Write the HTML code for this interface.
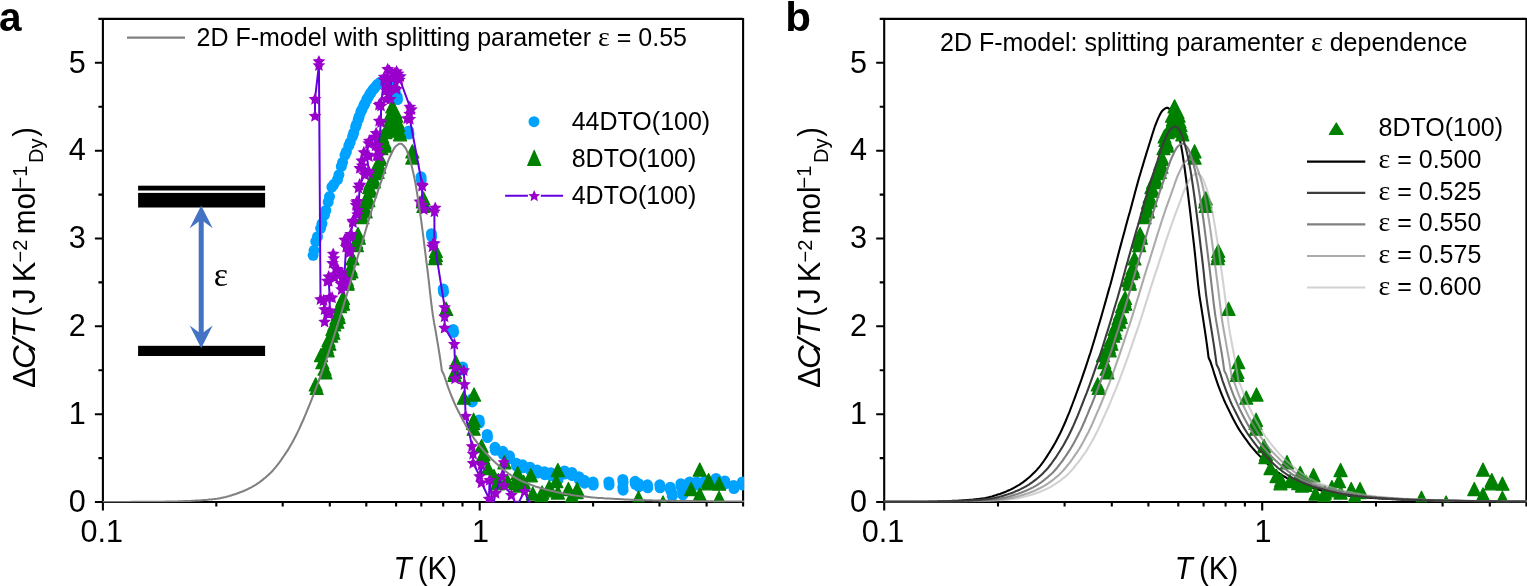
<!DOCTYPE html>
<html lang="en"><head><meta charset="utf-8"><title>2D F-model specific heat</title>
<style>html,body{margin:0;padding:0;background:#fff;overflow:hidden}svg{display:block}text{font-family:"Liberation Sans",Arial,Helvetica,sans-serif;fill:#000}.ser{font-family:"Liberation Serif","Times New Roman",serif}</style></head><body>
<svg width="1527" height="586" viewBox="0 0 1527 586">
<rect width="1527" height="586" fill="#fff"/>
<defs>
<clipPath id="ca"><rect x="101.9" y="17.9" width="642.2" height="484.4"/></clipPath>
<clipPath id="cb"><rect x="883.2" y="17.9" width="644.2" height="484.4"/></clipPath>
</defs>
<path d="M98.4 18.9H743.1M102.9 17.9V510.4M743.1 17.9V506.5M94.9 502H744.1M98.4 458.1H102.9M94.9 414.2H102.9M98.4 370.2H102.9M94.9 326.3H102.9M98.4 282.4H102.9M94.9 238.5H102.9M98.4 194.6H102.9M94.9 150.7H102.9M98.4 106.7H102.9M94.9 62.8H102.9M216.3 502V506.5M282.7 502V506.5M329.8 502V506.5M366.3 502V506.5M396.1 502V506.5M421.3 502V506.5M443.2 502V506.5M462.5 502V506.5M479.7 502V510.4M593.1 502V506.5M659.5 502V506.5M706.6 502V506.5M743.1 502V506.5" fill="none" stroke="#000" stroke-width="2.1"/>
<text x="85.7" y="511.7" font-size="30.6" text-anchor="end">0</text>
<text x="85.7" y="423.9" font-size="30.6" text-anchor="end">1</text>
<text x="85.7" y="336" font-size="30.6" text-anchor="end">2</text>
<text x="85.7" y="248.2" font-size="30.6" text-anchor="end">3</text>
<text x="85.7" y="160.4" font-size="30.6" text-anchor="end">4</text>
<text x="85.7" y="72.5" font-size="30.6" text-anchor="end">5</text>
<text x="101.7" y="541.8" font-size="30.6" text-anchor="middle">0.1</text>
<text x="480.5" y="541.8" font-size="30.6" text-anchor="middle">1</text>
<text transform="translate(393.5 578.7) scale(0.950 1)" font-size="31"><tspan font-style="italic">T</tspan><tspan dx="-2"> (K)</tspan></text>
<g transform="translate(35 387) rotate(-90)">
<text x="-1" y="0" font-size="31">Δ</text>
<text transform="translate(18 0) scale(1.060 1)" font-size="31" font-style="italic">C</text>
<text transform="translate(38 0) scale(1.200 1)" font-size="31" font-style="italic">/</text>
<text x="49.3" y="0" font-size="31" font-style="italic">T</text>
<text transform="translate(70.6 0) scale(0.930 1)" font-size="31">(</text>
<text x="83.2" y="0" font-size="31">J</text>
<text x="104.8" y="0" font-size="31">K</text>
<text x="124.5" y="-7.8" font-size="20">−2</text>
<text transform="translate(152.8 0) scale(0.955 1)" font-size="31">mol</text>
<text x="198.5" y="-8.5" font-size="20">−1</text>
<text transform="translate(224 8.4) scale(0.950 1)" font-size="21">Dy</text>
<text transform="translate(250.3 0) scale(0.930 1)" font-size="31">)</text>
</g>
<g clip-path="url(#ca)">
<g fill="#00A2FF">
<circle cx="313.1" cy="255.3" r="5.5"/>
<circle cx="314.1" cy="250.3" r="5.5"/>
<circle cx="315.8" cy="241.4" r="5.5"/>
<circle cx="317.5" cy="236.7" r="5.5"/>
<circle cx="320.6" cy="228.3" r="5.5"/>
<circle cx="322" cy="223.6" r="5.5"/>
<circle cx="324.4" cy="215.2" r="5.5"/>
<circle cx="325.8" cy="210.4" r="5.5"/>
<circle cx="328.2" cy="202" r="5.5"/>
<circle cx="329.5" cy="196.6" r="5.5"/>
<circle cx="331.9" cy="187" r="5.5"/>
<circle cx="333.9" cy="184.3" r="5.5"/>
<circle cx="337.5" cy="179.5" r="5.5"/>
<circle cx="338.9" cy="174.8" r="5.5"/>
<circle cx="341.3" cy="166.4" r="5.5"/>
<circle cx="342.6" cy="162.3" r="5.5"/>
<circle cx="345" cy="155.1" r="5.5"/>
<circle cx="346.4" cy="151.7" r="5.5"/>
<circle cx="348.8" cy="145.7" r="5.5"/>
<circle cx="350.2" cy="142.3" r="5.5"/>
<circle cx="352.6" cy="136.3" r="5.5"/>
<circle cx="353.7" cy="133" r="5.5"/>
<circle cx="355.6" cy="127" r="5.5"/>
<circle cx="356.5" cy="124.3" r="5.5"/>
<circle cx="358.2" cy="119.4" r="5.5"/>
<circle cx="359.1" cy="116.7" r="5.5"/>
<circle cx="360.8" cy="112" r="5.5"/>
<circle cx="361.9" cy="109.7" r="5.5"/>
<circle cx="363.8" cy="105.6" r="5.5"/>
<circle cx="364.9" cy="103.4" r="5.5"/>
<circle cx="366.8" cy="99.5" r="5.5"/>
<circle cx="367.9" cy="97.6" r="5.5"/>
<circle cx="369.8" cy="94.3" r="5.5"/>
<circle cx="371" cy="92.5" r="5.5"/>
<circle cx="373.2" cy="89.4" r="5.5"/>
<circle cx="374.6" cy="87.8" r="5.5"/>
<circle cx="377" cy="84.9" r="5.5"/>
<circle cx="378.3" cy="83.8" r="5.5"/>
<circle cx="380.7" cy="81.9" r="5.5"/>
<circle cx="382.1" cy="81.5" r="5.5"/>
<circle cx="384.5" cy="80.8" r="5.5"/>
<circle cx="385.8" cy="80.9" r="5.5"/>
<circle cx="388" cy="81" r="5.5"/>
<circle cx="389.3" cy="82.1" r="5.5"/>
<circle cx="391.5" cy="84" r="5.5"/>
<circle cx="392.4" cy="85.8" r="5.5"/>
<circle cx="394" cy="89" r="5.5"/>
<circle cx="395.2" cy="91.7" r="5.5"/>
<circle cx="397.2" cy="96.6" r="5.5"/>
<circle cx="397.5" cy="99.6" r="5.5"/>
<circle cx="408.7" cy="131" r="5.5"/>
<circle cx="409" cy="134" r="5.5"/>
<circle cx="421" cy="176.8" r="5.5"/>
<circle cx="421.3" cy="179.8" r="5.5"/>
<circle cx="431.4" cy="233.7" r="5.5"/>
<circle cx="431.7" cy="236.7" r="5.5"/>
<circle cx="443.2" cy="289" r="5.5"/>
<circle cx="443.5" cy="292" r="5.5"/>
<circle cx="453.2" cy="329.4" r="5.5"/>
<circle cx="453.5" cy="332.4" r="5.5"/>
<circle cx="462.6" cy="367" r="5.5"/>
<circle cx="462.9" cy="370" r="5.5"/>
<circle cx="472" cy="398.9" r="5.5"/>
<circle cx="472.3" cy="401.9" r="5.5"/>
<circle cx="479.1" cy="420" r="5.5"/>
<circle cx="479.4" cy="423" r="5.5"/>
<circle cx="487.2" cy="434.5" r="5.5"/>
<circle cx="487.5" cy="437.5" r="5.5"/>
<circle cx="495" cy="447.3" r="5.5"/>
<circle cx="495.3" cy="450.3" r="5.5"/>
<circle cx="502.8" cy="451.3" r="5.5"/>
<circle cx="503.1" cy="454.3" r="5.5"/>
<circle cx="509.5" cy="455.8" r="5.5"/>
<circle cx="509.8" cy="458.8" r="5.5"/>
<circle cx="516.3" cy="463.2" r="5.5"/>
<circle cx="516.6" cy="466.2" r="5.5"/>
<circle cx="522.6" cy="464.8" r="5.5"/>
<circle cx="522.9" cy="467.8" r="5.5"/>
<circle cx="530" cy="467.2" r="5.5"/>
<circle cx="530.3" cy="470.2" r="5.5"/>
<circle cx="537.2" cy="470.1" r="5.5"/>
<circle cx="537.5" cy="473.1" r="5.5"/>
<circle cx="544.4" cy="471.7" r="5.5"/>
<circle cx="544.7" cy="474.7" r="5.5"/>
<circle cx="550.8" cy="472.7" r="5.5"/>
<circle cx="551.1" cy="475.7" r="5.5"/>
<circle cx="557.8" cy="476.7" r="5.5"/>
<circle cx="558.1" cy="479.7" r="5.5"/>
<circle cx="564.5" cy="471" r="5.5"/>
<circle cx="564.8" cy="474" r="5.5"/>
<circle cx="571.9" cy="472.5" r="5.5"/>
<circle cx="572.2" cy="475.5" r="5.5"/>
<circle cx="578.9" cy="476.7" r="5.5"/>
<circle cx="579.2" cy="479.7" r="5.5"/>
<circle cx="584.2" cy="480.2" r="5.5"/>
<circle cx="584.5" cy="483.2" r="5.5"/>
<circle cx="593" cy="482" r="5.5"/>
<circle cx="593.3" cy="485" r="5.5"/>
<circle cx="608.8" cy="482" r="5.5"/>
<circle cx="609.1" cy="485" r="5.5"/>
<circle cx="622.8" cy="479.5" r="5.5"/>
<circle cx="623.1" cy="482.5" r="5.5"/>
<circle cx="622.8" cy="487.2" r="5.5"/>
<circle cx="623.1" cy="490.2" r="5.5"/>
<circle cx="635.1" cy="481.3" r="5.5"/>
<circle cx="635.4" cy="484.3" r="5.5"/>
<circle cx="638.7" cy="483.7" r="5.5"/>
<circle cx="639" cy="486.7" r="5.5"/>
<circle cx="647.5" cy="484.8" r="5.5"/>
<circle cx="647.8" cy="487.8" r="5.5"/>
<circle cx="659.8" cy="484.8" r="5.5"/>
<circle cx="660.1" cy="487.8" r="5.5"/>
<circle cx="670.3" cy="487.2" r="5.5"/>
<circle cx="670.6" cy="490.2" r="5.5"/>
<circle cx="672" cy="493.2" r="5.5"/>
<circle cx="672.3" cy="496.2" r="5.5"/>
<circle cx="680.9" cy="483.7" r="5.5"/>
<circle cx="681.2" cy="486.7" r="5.5"/>
<circle cx="682.6" cy="491.8" r="5.5"/>
<circle cx="682.9" cy="494.8" r="5.5"/>
<circle cx="689.6" cy="482" r="5.5"/>
<circle cx="689.9" cy="485" r="5.5"/>
<circle cx="696.7" cy="482" r="5.5"/>
<circle cx="697" cy="485" r="5.5"/>
<circle cx="705" cy="481" r="5.5"/>
<circle cx="705.3" cy="484" r="5.5"/>
<circle cx="716" cy="478.4" r="5.5"/>
<circle cx="716.3" cy="481.4" r="5.5"/>
<circle cx="724.8" cy="480.9" r="5.5"/>
<circle cx="725.1" cy="483.9" r="5.5"/>
<circle cx="733.6" cy="485.5" r="5.5"/>
<circle cx="733.9" cy="488.5" r="5.5"/>
<circle cx="742.4" cy="482" r="5.5"/>
<circle cx="742.7" cy="485" r="5.5"/>
</g>
<path fill="#008000" stroke="#008000" stroke-width="1.2" stroke-linejoin="round" d="M315.7 377.8L322.3 390.9L309.2 390.9ZM316.6 381.4L323.2 394.5L310.1 394.5ZM322.3 355.6L328.9 368.7L315.8 368.7ZM324.6 362.1L331.1 375.2L318 375.2ZM325.5 365.8L332 378.9L318.9 378.9ZM321 348.4L327.6 361.6L314.5 361.6ZM326.8 340.1L333.3 353.2L320.2 353.2ZM327.7 343.7L334.2 356.8L321.1 356.8ZM328.5 333.4L335 346.6L321.9 346.6ZM329.4 337.1L335.9 350.2L322.8 350.2ZM331.2 328.9L337.7 342.1L324.6 342.1ZM332.5 322.4L339 335.6L325.9 335.6ZM333.4 326.1L339.9 339.2L326.8 339.2ZM334.3 317.8L340.8 330.9L327.7 330.9ZM336.5 311.4L343 324.6L329.9 324.6ZM337.4 315.1L343.9 328.2L330.8 328.2ZM337.9 306.8L344.4 319.9L331.3 319.9ZM338.7 310.4L345.3 323.5L332.2 323.5ZM339.9 299.4L346.5 312.6L333.4 312.6ZM342.2 293.4L348.8 306.6L335.7 306.6ZM343.1 297.1L349.7 310.2L336.6 310.2ZM343 291.2L349.6 304.4L336.5 304.4ZM346.6 273.4L353.2 286.6L340.1 286.6ZM347.5 277.1L354.1 290.2L341 290.2ZM346.7 272.6L353.3 285.7L340.2 285.7ZM347.6 276.2L354.2 289.3L341.1 289.3ZM348.9 266.4L355.5 279.6L342.4 279.6ZM350.5 261.2L357.1 274.4L344 274.4ZM351.4 264.9L358 278L344.9 278ZM352.4 251.8L359 264.9L345.9 264.9ZM356.1 234.9L362.6 248.1L349.5 248.1ZM357 238.5L363.5 251.7L350.4 251.7ZM358 227.4L364.5 240.6L351.4 240.6ZM358.9 231L365.4 244.2L352.3 244.2ZM362.5 210.5L369 223.7L355.9 223.7ZM364.8 201.1L371.3 214.2L358.2 214.2ZM365.7 204.7L372.2 217.8L359.1 217.8ZM365.9 195.4L372.4 208.6L359.3 208.6ZM367.4 189.8L373.9 203L360.8 203ZM368.3 193.4L374.8 206.6L361.7 206.6ZM369.3 180.4L375.8 193.6L362.7 193.6ZM370.1 184L376.7 197.2L363.6 197.2ZM370.8 175.4L377.4 188.6L364.3 188.6ZM372.9 171.1L379.5 184.2L366.4 184.2ZM373.8 174.7L380.4 187.8L367.3 187.8ZM374.8 166.4L381.4 179.6L368.3 179.6ZM376.7 161.8L383.3 174.9L370.2 174.9ZM377.6 165.3L384.2 178.5L371.1 178.5ZM378.3 156.4L384.9 169.6L371.8 169.6ZM379.2 160L385.8 173.2L372.7 173.2ZM380.4 152.3L387 165.5L373.9 165.5ZM382.3 129.8L388.9 142.9L375.8 142.9ZM383.2 133.3L389.8 146.5L376.7 146.5ZM381.3 141.4L387.9 154.6L374.8 154.6ZM384.3 135.4L390.9 148.6L377.8 148.6ZM385.2 139L391.8 152.2L378.7 152.2ZM387.9 120.5L394.4 133.6L381.3 133.6ZM388.8 124L395.3 137.2L382.2 137.2ZM385.3 125.5L391.9 138.6L378.8 138.6ZM389.8 109.2L396.3 122.2L383.2 122.2ZM390.7 112.8L397.2 125.8L384.1 125.8ZM392.4 99.8L398.9 112.8L385.8 112.8ZM397.3 114.8L403.8 127.8L390.7 127.8ZM398.2 118.3L404.7 131.4L391.6 131.4ZM399.2 124.1L405.7 137.2L392.6 137.2ZM400.1 127.7L406.6 140.8L393.5 140.8ZM393.8 119.5L400.3 132.6L387.2 132.6ZM395.3 105.5L401.8 118.5L388.7 118.5ZM396.2 109L402.7 122.1L389.6 122.1ZM412.3 144.8L418.9 158L405.8 158ZM412.3 150.9L418.9 164.1L405.8 164.1ZM423.5 191.8L430 204.9L416.9 204.9ZM422.9 194.8L429.4 207.9L416.3 207.9ZM423.5 199.2L430 212.4L416.9 212.4ZM435.8 244.3L442.4 257.4L429.3 257.4ZM435.8 248.4L442.4 261.6L429.3 261.6ZM435.2 251.4L441.8 264.6L428.7 264.6ZM446.2 302.2L452.8 315.4L439.7 315.4ZM455.9 355.6L462.4 368.7L449.3 368.7ZM455.1 365.3L461.6 378.4L448.5 378.4ZM454.5 368.3L461 381.4L447.9 381.4ZM463.9 391.1L470.4 404.2L457.3 404.2ZM474 387.9L480.6 401.1L467.5 401.1ZM473.6 413.2L480.2 426.4L467.1 426.4ZM473 416.2L479.6 429.4L466.5 429.4ZM473.6 422.1L480.2 435.2L467.1 435.2ZM481.6 439.4L488.1 452.6L475 452.6ZM483.5 447.4L490 460.6L476.9 460.6ZM482.9 450.4L489.4 463.6L476.3 463.6ZM488 461.4L494.5 474.6L481.4 474.6ZM494 469.4L500.5 482.6L487.4 482.6ZM498.4 473.6L505 486.8L491.9 486.8ZM497.8 476.6L504.4 489.8L491.3 489.8ZM504.4 455.6L511 468.8L497.9 468.8ZM507.4 474.4L514 487.6L500.9 487.6ZM516.2 473.4L522.7 486.6L509.6 486.6ZM515.6 476.4L522.1 489.6L509 489.6ZM517.6 466.4L524.1 479.6L511 479.6ZM519.4 478.9L525.9 492.1L512.8 492.1ZM523.6 475.3L530.1 488.4L517 488.4ZM523 478.3L529.5 491.4L516.4 491.4ZM530.8 468.6L537.4 481.8L524.3 481.8ZM532.8 486.9L539.4 500.1L526.3 500.1ZM542.1 485.9L548.7 499.1L535.6 499.1ZM541.5 488.9L548.1 502.1L535 502.1ZM557.9 463.4L564.4 476.6L551.3 476.6ZM556.3 474.4L562.8 487.6L549.7 487.6ZM549.2 480.6L555.7 493.8L542.6 493.8ZM548.6 483.6L555.1 496.8L542 496.8ZM557.9 485.9L564.4 499.1L551.3 499.1ZM568.4 482.4L575 495.6L561.9 495.6ZM577.2 482.4L583.7 495.6L570.6 495.6ZM576.6 485.4L583.1 498.6L570 498.6ZM571.9 489.4L578.5 502.6L565.4 502.6ZM638.5 491.2L645 504.4L631.9 504.4ZM663 495.9L669.6 509.1L656.5 509.1ZM662.4 498.9L669 512L655.9 512ZM699.8 463.1L706.3 476.2L693.2 476.2ZM691.1 482.4L697.7 495.6L684.6 495.6ZM708.6 473.6L715.1 486.8L702 486.8ZM708 476.6L714.5 489.8L701.4 489.8ZM719.1 477.1L725.7 490.2L712.6 490.2ZM699.8 487.8L706.3 500.9L693.2 500.9ZM719.1 491.2L725.7 504.4L712.6 504.4ZM718.5 494.2L725.1 507.4L712 507.4Z"/>
<path fill="none" stroke="#6400E0" stroke-width="2" stroke-linejoin="round" d="M315 115.7 L315 98.8 L318.9 65 L318.9 61.1 L320.5 298.9 L323.6 299.9 L324.6 309.1 L324.6 321.4 L329.7 310.2 L329.7 296.8 L328.7 280.5 L333.8 274.3 L333.8 257.9 L337.9 269.2 L341 283.5 L342 272.3 L344 282.5 L346.1 246.6 L346.1 239.5 L350.2 248.7 L350.2 236.4 L353 222 L356.3 202 L358 210 L360 185.1 L364.4 174.1 L362.2 165.3 L368.8 170.8 L366.6 154.2 L368.8 143.1 L375.5 145.3 L374.4 136.5 L377.7 155.3 L381 122 L381 105.4 L384.3 76.6 L386.6 86.6 L387.7 68.8 L388.8 94.3 L392.1 77.7 L396.5 71.1 L396.5 88.8 L398.8 76.6 L409.8 106.5 L409.8 118.7 L422.1 184.5 L422.1 204.5 L434.4 211.2 L434.4 242.9 L444.6 306.9 L444.6 316.3 L444.6 327.6 L454.3 343.7 L455.1 367 L455.1 378.3 L463.7 370 L464.5 383.9 L465.6 415.8 L472 445.9 L473.1 453.4 L473.1 462.8 L479.5 475.9 L481.4 464.6 L481.4 482.3 L489 498.5 L489.6 479.7 L493 506 L495.6 492.8 L502 475.9 L503.9 462 L503.9 485.3 L511.4 494.7 L517 506 L524.6 490.9 L530 506"/>
<path fill="#9A00CC" d="M315 109.6L316.9 113.7L321.4 114.2L318 117.3L318.9 121.7L315 119.5L311.1 121.7L312 117.3L308.6 114.2L313.1 113.7ZM315 92.7L316.9 96.8L321.4 97.3L318 100.4L318.9 104.8L315 102.6L311.1 104.8L312 100.4L308.6 97.3L313.1 96.8ZM318.9 58.9L320.8 63L325.3 63.5L321.9 66.6L322.8 71L318.9 68.8L315 71L315.9 66.6L312.5 63.5L317 63ZM318.9 55L320.8 59.1L325.3 59.6L321.9 62.7L322.8 67.1L318.9 64.9L315 67.1L315.9 62.7L312.5 59.6L317 59.1ZM320.5 292.8L322.4 296.9L326.9 297.4L323.5 300.5L324.4 304.9L320.5 302.7L316.6 304.9L317.5 300.5L314.1 297.4L318.6 296.9ZM323.6 293.8L325.5 297.9L330 298.4L326.6 301.5L327.5 305.9L323.6 303.7L319.7 305.9L320.6 301.5L317.2 298.4L321.7 297.9ZM324.6 303L326.5 307.1L331 307.6L327.6 310.7L328.5 315.1L324.6 312.9L320.7 315.1L321.6 310.7L318.2 307.6L322.7 307.1ZM324.6 315.3L326.5 319.4L331 319.9L327.6 323L328.5 327.4L324.6 325.2L320.7 327.4L321.6 323L318.2 319.9L322.7 319.4ZM329.7 304.1L331.6 308.2L336.1 308.7L332.7 311.8L333.6 316.2L329.7 314L325.8 316.2L326.7 311.8L323.3 308.7L327.8 308.2ZM329.7 290.7L331.6 294.8L336.1 295.3L332.7 298.4L333.6 302.8L329.7 300.6L325.8 302.8L326.7 298.4L323.3 295.3L327.8 294.8ZM328.7 274.4L330.6 278.5L335.1 279L331.7 282.1L332.6 286.5L328.7 284.3L324.8 286.5L325.7 282.1L322.3 279L326.8 278.5ZM333.8 268.2L335.7 272.3L340.2 272.8L336.8 275.9L337.7 280.3L333.8 278.1L329.9 280.3L330.8 275.9L327.4 272.8L331.9 272.3ZM333.8 251.8L335.7 255.9L340.2 256.4L336.8 259.5L337.7 263.9L333.8 261.7L329.9 263.9L330.8 259.5L327.4 256.4L331.9 255.9ZM337.9 263.1L339.8 267.2L344.3 267.7L340.9 270.8L341.8 275.2L337.9 273L334 275.2L334.9 270.8L331.5 267.7L336 267.2ZM341 277.4L342.9 281.5L347.4 282L344 285.1L344.9 289.5L341 287.3L337.1 289.5L338 285.1L334.6 282L339.1 281.5ZM342 266.2L343.9 270.3L348.4 270.8L345 273.9L345.9 278.3L342 276.1L338.1 278.3L339 273.9L335.6 270.8L340.1 270.3ZM344 276.4L345.9 280.5L350.4 281L347 284.1L347.9 288.5L344 286.3L340.1 288.5L341 284.1L337.6 281L342.1 280.5ZM346.1 240.5L348 244.6L352.5 245.1L349.1 248.2L350 252.6L346.1 250.4L342.2 252.6L343.1 248.2L339.7 245.1L344.2 244.6ZM346.1 233.4L348 237.5L352.5 238L349.1 241.1L350 245.5L346.1 243.3L342.2 245.5L343.1 241.1L339.7 238L344.2 237.5ZM350.2 242.6L352.1 246.7L356.6 247.2L353.2 250.3L354.1 254.7L350.2 252.5L346.3 254.7L347.2 250.3L343.8 247.2L348.3 246.7ZM350.2 230.3L352.1 234.4L356.6 234.9L353.2 238L354.1 242.4L350.2 240.2L346.3 242.4L347.2 238L343.8 234.9L348.3 234.4ZM353 215.9L354.9 220L359.4 220.5L356 223.6L356.9 228L353 225.8L349.1 228L350 223.6L346.6 220.5L351.1 220ZM356.3 195.9L358.2 200L362.7 200.5L359.3 203.6L360.2 208L356.3 205.8L352.4 208L353.3 203.6L349.9 200.5L354.4 200ZM358 203.9L359.9 208L364.4 208.5L361 211.6L361.9 216L358 213.8L354.1 216L355 211.6L351.6 208.5L356.1 208ZM360 179L361.9 183.1L366.4 183.6L363 186.7L363.9 191.1L360 188.9L356.1 191.1L357 186.7L353.6 183.6L358.1 183.1ZM364.4 168L366.3 172.1L370.8 172.6L367.4 175.7L368.3 180.1L364.4 177.9L360.5 180.1L361.4 175.7L358 172.6L362.5 172.1ZM362.2 159.2L364.1 163.3L368.6 163.8L365.2 166.9L366.1 171.3L362.2 169.1L358.3 171.3L359.2 166.9L355.8 163.8L360.3 163.3ZM368.8 164.7L370.7 168.8L375.2 169.3L371.8 172.4L372.7 176.8L368.8 174.6L364.9 176.8L365.8 172.4L362.4 169.3L366.9 168.8ZM366.6 148.1L368.5 152.2L373 152.7L369.6 155.8L370.5 160.2L366.6 158L362.7 160.2L363.6 155.8L360.2 152.7L364.7 152.2ZM368.8 137L370.7 141.1L375.2 141.6L371.8 144.7L372.7 149.1L368.8 146.9L364.9 149.1L365.8 144.7L362.4 141.6L366.9 141.1ZM375.5 139.2L377.4 143.3L381.9 143.8L378.5 146.9L379.4 151.3L375.5 149.1L371.6 151.3L372.5 146.9L369.1 143.8L373.6 143.3ZM374.4 130.4L376.3 134.5L380.8 135L377.4 138.1L378.3 142.5L374.4 140.3L370.5 142.5L371.4 138.1L368 135L372.5 134.5ZM377.7 149.2L379.6 153.3L384.1 153.8L380.7 156.9L381.6 161.3L377.7 159.1L373.8 161.3L374.7 156.9L371.3 153.8L375.8 153.3ZM381 115.9L382.9 120L387.4 120.5L384 123.6L384.9 128L381 125.8L377.1 128L378 123.6L374.6 120.5L379.1 120ZM381 99.3L382.9 103.4L387.4 103.9L384 107L384.9 111.4L381 109.2L377.1 111.4L378 107L374.6 103.9L379.1 103.4ZM384.3 70.5L386.2 74.6L390.7 75.1L387.3 78.2L388.2 82.6L384.3 80.4L380.4 82.6L381.3 78.2L377.9 75.1L382.4 74.6ZM386.6 80.5L388.5 84.6L393 85.1L389.6 88.2L390.5 92.6L386.6 90.4L382.7 92.6L383.6 88.2L380.2 85.1L384.7 84.6ZM387.7 62.7L389.6 66.8L394.1 67.3L390.7 70.4L391.6 74.8L387.7 72.6L383.8 74.8L384.7 70.4L381.3 67.3L385.8 66.8ZM388.8 88.2L390.7 92.3L395.2 92.8L391.8 95.9L392.7 100.3L388.8 98.1L384.9 100.3L385.8 95.9L382.4 92.8L386.9 92.3ZM392.1 71.6L394 75.7L398.5 76.2L395.1 79.3L396 83.7L392.1 81.5L388.2 83.7L389.1 79.3L385.7 76.2L390.2 75.7ZM396.5 65L398.4 69.1L402.9 69.6L399.5 72.7L400.4 77.1L396.5 74.9L392.6 77.1L393.5 72.7L390.1 69.6L394.6 69.1ZM396.5 82.7L398.4 86.8L402.9 87.3L399.5 90.4L400.4 94.8L396.5 92.6L392.6 94.8L393.5 90.4L390.1 87.3L394.6 86.8ZM398.8 70.5L400.7 74.6L405.2 75.1L401.8 78.2L402.7 82.6L398.8 80.4L394.9 82.6L395.8 78.2L392.4 75.1L396.9 74.6ZM409.8 100.4L411.7 104.5L416.2 105L412.8 108.1L413.7 112.5L409.8 110.3L405.9 112.5L406.8 108.1L403.4 105L407.9 104.5ZM409.8 112.6L411.7 116.7L416.2 117.2L412.8 120.3L413.7 124.7L409.8 122.5L405.9 124.7L406.8 120.3L403.4 117.2L407.9 116.7ZM422.1 178.4L424 182.5L428.5 183L425.1 186.1L426 190.5L422.1 188.3L418.2 190.5L419.1 186.1L415.7 183L420.2 182.5ZM422.1 198.4L424 202.5L428.5 203L425.1 206.1L426 210.5L422.1 208.3L418.2 210.5L419.1 206.1L415.7 203L420.2 202.5ZM434.4 205.1L436.3 209.2L440.8 209.7L437.4 212.8L438.3 217.2L434.4 215L430.5 217.2L431.4 212.8L428 209.7L432.5 209.2ZM434.4 236.8L436.3 240.9L440.8 241.4L437.4 244.5L438.3 248.9L434.4 246.7L430.5 248.9L431.4 244.5L428 241.4L432.5 240.9ZM444.6 300.8L446.5 304.9L451 305.4L447.6 308.5L448.5 312.9L444.6 310.7L440.7 312.9L441.6 308.5L438.2 305.4L442.7 304.9ZM444.6 310.2L446.5 314.3L451 314.8L447.6 317.9L448.5 322.3L444.6 320.1L440.7 322.3L441.6 317.9L438.2 314.8L442.7 314.3ZM444.6 321.5L446.5 325.6L451 326.1L447.6 329.2L448.5 333.6L444.6 331.4L440.7 333.6L441.6 329.2L438.2 326.1L442.7 325.6ZM454.3 337.6L456.2 341.7L460.7 342.2L457.3 345.3L458.2 349.7L454.3 347.5L450.4 349.7L451.3 345.3L447.9 342.2L452.4 341.7ZM455.1 360.9L457 365L461.5 365.5L458.1 368.6L459 373L455.1 370.8L451.2 373L452.1 368.6L448.7 365.5L453.2 365ZM455.1 372.2L457 376.3L461.5 376.8L458.1 379.9L459 384.3L455.1 382.1L451.2 384.3L452.1 379.9L448.7 376.8L453.2 376.3ZM463.7 363.9L465.6 368L470.1 368.5L466.7 371.6L467.6 376L463.7 373.8L459.8 376L460.7 371.6L457.3 368.5L461.8 368ZM464.5 377.8L466.4 381.9L470.9 382.4L467.5 385.5L468.4 389.9L464.5 387.7L460.6 389.9L461.5 385.5L458.1 382.4L462.6 381.9ZM465.6 409.7L467.5 413.8L472 414.3L468.6 417.4L469.5 421.8L465.6 419.6L461.7 421.8L462.6 417.4L459.2 414.3L463.7 413.8ZM472 439.8L473.9 443.9L478.4 444.4L475 447.5L475.9 451.9L472 449.7L468.1 451.9L469 447.5L465.6 444.4L470.1 443.9ZM473.1 447.3L475 451.4L479.5 451.9L476.1 455L477 459.4L473.1 457.2L469.2 459.4L470.1 455L466.7 451.9L471.2 451.4ZM473.1 456.7L475 460.8L479.5 461.3L476.1 464.4L477 468.8L473.1 466.6L469.2 468.8L470.1 464.4L466.7 461.3L471.2 460.8ZM479.5 469.8L481.4 473.9L485.9 474.4L482.5 477.5L483.4 481.9L479.5 479.7L475.6 481.9L476.5 477.5L473.1 474.4L477.6 473.9ZM481.4 458.5L483.3 462.6L487.8 463.1L484.4 466.2L485.3 470.6L481.4 468.4L477.5 470.6L478.4 466.2L475 463.1L479.5 462.6ZM481.4 476.2L483.3 480.3L487.8 480.8L484.4 483.9L485.3 488.3L481.4 486.1L477.5 488.3L478.4 483.9L475 480.8L479.5 480.3ZM489 492.4L490.9 496.5L495.4 497L492 500.1L492.9 504.5L489 502.3L485.1 504.5L486 500.1L482.6 497L487.1 496.5ZM489.6 473.6L491.5 477.7L496 478.2L492.6 481.3L493.5 485.7L489.6 483.5L485.7 485.7L486.6 481.3L483.2 478.2L487.7 477.7ZM493 499.9L494.9 504L499.4 504.5L496 507.6L496.9 512L493 509.8L489.1 512L490 507.6L486.6 504.5L491.1 504ZM495.6 486.7L497.5 490.8L502 491.3L498.6 494.4L499.5 498.8L495.6 496.6L491.7 498.8L492.6 494.4L489.2 491.3L493.7 490.8ZM502 469.8L503.9 473.9L508.4 474.4L505 477.5L505.9 481.9L502 479.7L498.1 481.9L499 477.5L495.6 474.4L500.1 473.9ZM503.9 455.9L505.8 460L510.3 460.5L506.9 463.6L507.8 468L503.9 465.8L500 468L500.9 463.6L497.5 460.5L502 460ZM503.9 479.2L505.8 483.3L510.3 483.8L506.9 486.9L507.8 491.3L503.9 489.1L500 491.3L500.9 486.9L497.5 483.8L502 483.3ZM511.4 488.6L513.3 492.7L517.8 493.2L514.4 496.3L515.3 500.7L511.4 498.5L507.5 500.7L508.4 496.3L505 493.2L509.5 492.7ZM517 499.9L518.9 504L523.4 504.5L520 507.6L520.9 512L517 509.8L513.1 512L514 507.6L510.6 504.5L515.1 504ZM524.6 484.8L526.5 488.9L531 489.4L527.6 492.5L528.5 496.9L524.6 494.7L520.7 496.9L521.6 492.5L518.2 489.4L522.7 488.9ZM530 499.9L531.9 504L536.4 504.5L533 507.6L533.9 512L530 509.8L526.1 512L527 507.6L523.6 504.5L528.1 504ZM327.6 306.9L329.5 311L334 311.5L330.6 314.6L331.5 319L327.6 316.8L323.6 319L324.5 314.6L321.2 311.5L325.7 311ZM329.3 306.8L331.2 310.9L335.7 311.4L332.4 314.5L333.3 318.9L329.3 316.7L325.4 318.9L326.3 314.5L323 311.4L327.4 310.9ZM332.1 291.1L334 295.2L338.5 295.7L335.1 298.8L336 303.2L332.1 301L328.2 303.2L329 298.8L325.7 295.7L330.2 295.2ZM328.7 270.1L330.6 274.2L335.1 274.8L331.7 277.8L332.6 282.2L328.7 280L324.8 282.2L325.7 277.8L322.3 274.8L326.8 274.2ZM327.3 274.4L329.2 278.5L333.7 279L330.4 282.1L331.2 286.5L327.3 284.3L323.4 286.5L324.3 282.1L320.9 279L325.4 278.5ZM334.7 271.2L336.6 275.3L341.1 275.9L337.7 278.9L338.6 283.4L334.7 281.1L330.8 283.4L331.7 278.9L328.3 275.9L332.8 275.3ZM333.2 247.5L335.1 251.6L339.6 252.1L336.2 255.1L337.1 259.6L333.2 257.4L329.3 259.6L330.2 255.1L326.8 252.1L331.3 251.6ZM332.5 256.7L334.4 260.8L338.9 261.3L335.6 264.4L336.5 268.8L332.5 266.6L328.6 268.8L329.5 264.4L326.2 261.3L330.6 260.8ZM336.5 262.6L338.3 266.7L342.8 267.3L339.5 270.3L340.4 274.7L336.5 272.5L332.5 274.7L333.4 270.3L330.1 267.3L334.6 266.7ZM343.2 272.6L345 276.8L349.5 277.3L346.2 280.3L347.1 284.8L343.2 282.5L339.2 284.8L340.1 280.3L336.8 277.3L341.3 276.8ZM341.6 282.8L343.5 286.9L348 287.4L344.6 290.5L345.5 294.9L341.6 292.7L337.7 294.9L338.6 290.5L335.2 287.4L339.7 286.9ZM340.7 266.7L342.5 270.8L347 271.3L343.7 274.4L344.6 278.8L340.7 276.6L336.7 278.8L337.6 274.4L334.3 271.3L338.8 270.8ZM346 272.7L347.9 276.8L352.4 277.4L349.1 280.4L350 284.9L346 282.6L342.1 284.9L343 280.4L339.7 277.4L344.2 276.8ZM344.1 279.4L346 283.5L350.5 284L347.2 287.1L348.1 291.5L344.1 289.3L340.2 291.5L341.1 287.1L337.8 284L342.3 283.5ZM346.9 240.2L348.8 244.3L353.3 244.8L350 247.9L350.9 252.3L346.9 250.1L343 252.3L343.9 247.9L340.6 244.8L345.1 244.3ZM344.6 233.3L346.5 237.4L351 237.9L347.7 241L348.6 245.4L344.6 243.2L340.7 245.4L341.6 241L338.3 237.9L342.7 237.4ZM345.3 233.1L347.2 237.2L351.7 237.8L348.4 240.8L349.3 245.2L345.3 243L341.4 245.2L342.3 240.8L339 237.8L343.5 237.2ZM349.5 246L351.4 250.1L355.9 250.6L352.6 253.7L353.5 258.1L349.5 255.9L345.6 258.1L346.5 253.7L343.2 250.6L347.6 250.1ZM351.5 228.4L353.4 232.6L357.9 233.1L354.6 236.1L355.5 240.6L351.5 238.3L347.6 240.6L348.5 236.1L345.2 233.1L349.7 232.6ZM350.6 227.6L352.5 231.7L357 232.2L353.7 235.3L354.6 239.7L350.6 237.5L346.7 239.7L347.6 235.3L344.3 232.2L348.8 231.7ZM352.8 214.4L354.6 218.5L359.1 219.1L355.8 222.1L356.7 226.6L352.8 224.3L348.8 226.6L349.7 222.1L346.4 219.1L350.9 218.5ZM357.1 194.6L359 198.7L363.5 199.2L360.1 202.3L361 206.7L357.1 204.5L353.1 206.7L354 202.3L350.7 199.2L355.2 198.7ZM356.1 198.5L357.9 202.6L362.4 203.2L359.1 206.2L360 210.7L356.1 208.4L352.1 210.7L353 206.2L349.7 203.2L354.2 202.6ZM357.6 208L359.4 212.1L363.9 212.6L360.6 215.7L361.5 220.1L357.6 217.9L353.6 220.1L354.5 215.7L351.2 212.6L355.7 212.1ZM358.4 181.4L360.3 185.5L364.8 186L361.4 189.1L362.3 193.5L358.4 191.3L354.5 193.5L355.4 189.1L352 186L356.5 185.5ZM359.5 178.1L361.4 182.2L365.9 182.7L362.6 185.8L363.5 190.2L359.5 188L355.6 190.2L356.5 185.8L353.2 182.7L357.7 182.2ZM365.1 168.2L367 172.3L371.4 172.9L368.1 175.9L369 180.3L365.1 178.1L361.1 180.3L362 175.9L358.7 172.9L363.2 172.3ZM361.8 154.2L363.7 158.3L368.1 158.8L364.8 161.9L365.7 166.3L361.8 164.1L357.8 166.3L358.7 161.9L355.4 158.8L359.9 158.3ZM359.8 161.7L361.6 165.8L366.1 166.3L362.8 169.4L363.7 173.8L359.8 171.6L355.8 173.8L356.7 169.4L353.4 166.3L357.9 165.8ZM368.9 166.7L370.8 170.8L375.3 171.3L372 174.4L372.9 178.8L368.9 176.6L365 178.8L365.9 174.4L362.5 171.3L367 170.8ZM368.9 149.9L370.8 154L375.2 154.6L371.9 157.6L372.8 162L368.9 159.8L364.9 162L365.8 157.6L362.5 154.6L367 154ZM363.9 145.8L365.8 149.9L370.3 150.4L367 153.5L367.9 157.9L363.9 155.7L360 157.9L360.9 153.5L357.5 150.4L362 149.9ZM369.3 134.4L371.1 138.5L375.6 139L372.3 142L373.2 146.5L369.3 144.3L365.3 146.5L366.2 142L362.9 139L367.4 138.5ZM377.8 143.7L379.7 147.8L384.2 148.3L380.9 151.3L381.8 155.8L377.8 153.6L373.9 155.8L374.8 151.3L371.5 148.3L375.9 147.8ZM377.6 138.9L379.5 143L384 143.5L380.6 146.6L381.5 151L377.6 148.8L373.7 151L374.5 146.6L371.2 143.5L375.7 143ZM376.1 126.7L378 130.8L382.5 131.3L379.2 134.4L380 138.8L376.1 136.6L372.2 138.8L373.1 134.4L369.7 131.3L374.2 130.8ZM376.7 148.8L378.6 152.9L383.1 153.5L379.8 156.5L380.7 161L376.7 158.7L372.8 161L373.7 156.5L370.4 153.5L374.9 152.9ZM379.2 149L381 153.1L385.5 153.7L382.2 156.7L383.1 161.2L379.2 158.9L375.2 161.2L376.1 156.7L372.8 153.7L377.3 153.1ZM379.2 114.3L381.1 118.4L385.6 119L382.2 122L383.1 126.5L379.2 124.2L375.2 126.5L376.1 122L372.8 119L377.3 118.4ZM380.1 97.3L382 101.4L386.5 101.9L383.2 105L384.1 109.4L380.1 107.2L376.2 109.4L377.1 105L373.8 101.9L378.2 101.4ZM379 98.3L380.9 102.4L385.4 102.9L382 106L382.9 110.4L379 108.2L375.1 110.4L375.9 106L372.6 102.9L377.1 102.4ZM384 73.2L385.9 77.4L390.4 77.9L387.1 80.9L388 85.4L384 83.1L380.1 85.4L381 80.9L377.7 77.9L382.2 77.4ZM388.1 80.7L390 84.8L394.5 85.4L391.1 88.4L392 92.8L388.1 90.6L384.1 92.8L385 88.4L381.7 85.4L386.2 84.8ZM386.4 83.8L388.2 87.9L392.7 88.5L389.4 91.5L390.3 96L386.4 93.7L382.4 96L383.3 91.5L380 88.5L384.5 87.9ZM389.6 64.4L391.5 68.6L396 69.1L392.7 72.1L393.6 76.6L389.6 74.3L385.7 76.6L386.6 72.1L383.3 69.1L387.8 68.6ZM390.3 92.6L392.2 96.7L396.7 97.2L393.3 100.3L394.2 104.7L390.3 102.5L386.4 104.7L387.3 100.3L383.9 97.2L388.4 96.7ZM386 92.7L387.9 96.8L392.4 97.3L389.1 100.4L390 104.8L386 102.6L382.1 104.8L383 100.4L379.7 97.3L384.2 96.8ZM391 71.4L392.9 75.5L397.4 76L394 79L394.9 83.5L391 81.3L387 83.5L387.9 79L384.6 76L389.1 75.5ZM398 67.2L399.9 71.3L404.4 71.8L401 74.9L401.9 79.3L398 77.1L394 79.3L394.9 74.9L391.6 71.8L396.1 71.3ZM394.4 66.9L396.3 71L400.8 71.5L397.4 74.6L398.3 79L394.4 76.8L390.4 79L391.3 74.6L388 71.5L392.5 71ZM394.3 81.3L396.2 85.4L400.7 85.9L397.4 89L398.3 93.4L394.3 91.2L390.4 93.4L391.3 89L388 85.9L392.5 85.4ZM400.4 69.8L402.2 73.9L406.7 74.4L403.4 77.5L404.3 81.9L400.4 79.7L396.4 81.9L397.3 77.5L394 74.4L398.5 73.9ZM399.4 73.2L401.3 77.3L405.8 77.9L402.4 80.9L403.3 85.4L399.4 83.1L395.5 85.4L396.4 80.9L393 77.9L397.5 77.3ZM411.4 103L413.3 107.1L417.8 107.6L414.4 110.7L415.3 115.1L411.4 112.9L407.5 115.1L408.4 110.7L405 107.6L409.5 107.1ZM407.3 111.8L409.2 115.9L413.7 116.4L410.4 119.5L411.3 123.9L407.3 121.7L403.4 123.9L404.3 119.5L401 116.4L405.5 115.9ZM409.6 107.3L411.5 111.4L416 111.9L412.6 115L413.5 119.4L409.6 117.2L405.6 119.4L406.5 115L403.2 111.9L407.7 111.4ZM422.3 179.5L424.2 183.6L428.7 184.1L425.4 187.2L426.2 191.6L422.3 189.4L418.4 191.6L419.3 187.2L415.9 184.1L420.4 183.6ZM423.7 202.8L425.6 206.9L430.1 207.4L426.8 210.5L427.7 214.9L423.7 212.7L419.8 214.9L420.7 210.5L417.4 207.4L421.9 206.9ZM419.9 195.2L421.7 199.3L426.2 199.8L422.9 202.9L423.8 207.3L419.9 205.1L415.9 207.3L416.8 202.9L413.5 199.8L418 199.3ZM435.2 201.4L437.1 205.5L441.6 206.1L438.2 209.1L439.1 213.5L435.2 211.3L431.3 213.5L432.2 209.1L428.8 206.1L433.3 205.5ZM433 237.5L434.9 241.7L439.4 242.2L436.1 245.2L437 249.7L433 247.4L429.1 249.7L430 245.2L426.6 242.2L431.1 241.7ZM432.4 240.2L434.3 244.3L438.8 244.8L435.5 247.9L436.4 252.3L432.4 250.1L428.5 252.3L429.4 247.9L426 244.8L430.5 244.3Z"/>
<path fill="none" stroke="#808080" stroke-width="2.05" stroke-linejoin="round" d="M102.9 501.9 L104.2 501.9 L105.5 501.9 L106.8 501.9 L108.1 501.9 L109.4 501.9 L110.8 501.9 L112.1 501.9 L113.4 501.9 L114.7 501.9 L116 501.9 L117.3 501.9 L118.6 501.9 L119.9 501.9 L121.2 501.9 L122.5 501.9 L123.8 501.9 L125.2 501.9 L126.5 501.9 L127.8 501.9 L129.1 501.9 L130.4 501.9 L131.7 501.8 L133 501.8 L134.3 501.8 L135.6 501.8 L136.9 501.8 L138.2 501.8 L139.5 501.8 L140.9 501.8 L142.2 501.8 L143.5 501.8 L144.8 501.8 L146.1 501.8 L147.4 501.8 L148.7 501.8 L150 501.8 L151.3 501.8 L152.6 501.7 L153.9 501.7 L155.3 501.7 L156.6 501.7 L157.9 501.7 L159.2 501.7 L160.5 501.7 L161.8 501.7 L163.1 501.7 L164.4 501.7 L165.7 501.6 L167 501.6 L168.3 501.6 L169.7 501.6 L171 501.5 L172.3 501.5 L173.6 501.5 L174.9 501.4 L176.2 501.4 L177.5 501.4 L178.8 501.3 L180.1 501.3 L181.4 501.2 L182.7 501.2 L184.1 501.1 L185.4 501.1 L186.7 501 L188 501 L189.3 500.9 L190.6 500.9 L191.9 500.8 L193.2 500.8 L194.5 500.7 L195.8 500.6 L197.1 500.5 L198.4 500.5 L199.8 500.4 L201.1 500.3 L202.4 500.2 L203.7 500.1 L205 500 L206.3 499.9 L207.6 499.8 L208.9 499.6 L210.2 499.5 L211.5 499.4 L212.8 499.2 L214.2 499.1 L215.5 498.9 L216.8 498.8 L218.1 498.6 L219.4 498.4 L220.7 498.1 L222 497.8 L223.3 497.5 L224.6 497.2 L225.9 496.9 L227.2 496.5 L228.6 496.2 L229.9 495.8 L231.2 495.4 L232.5 495 L233.8 494.6 L235.1 494.2 L236.4 493.8 L237.7 493.3 L239 492.8 L240.3 492.3 L241.6 491.8 L243 491.3 L244.3 490.7 L245.6 490.1 L246.9 489.5 L248.2 488.9 L249.5 488.2 L250.8 487.6 L252.1 486.9 L253.4 486.1 L254.7 485.4 L256 484.6 L257.3 483.7 L258.7 482.8 L260 481.9 L261.3 480.9 L262.6 479.9 L263.9 478.8 L265.2 477.7 L266.5 476.6 L267.8 475.4 L269.1 474.2 L270.4 473 L271.7 471.7 L273.1 470.2 L274.4 468.7 L275.7 467.2 L277 465.5 L278.3 463.8 L279.6 462.1 L280.9 460.3 L282.2 458.4 L283.5 456.5 L284.8 454.6 L286.1 452.6 L287.5 450.6 L288.8 448.5 L290.1 446.3 L291.4 444.1 L292.7 441.7 L294 439.3 L295.3 436.8 L296.6 434.2 L297.9 431.6 L299.2 428.9 L300.5 426 L301.8 423 L303.2 420 L304.5 416.9 L305.8 413.8 L307.1 410.7 L308.4 407.5 L309.7 404.3 L311 401.1 L312.3 397.8 L313.6 394.4 L314.9 391.1 L316.2 387.7 L317.6 384.2 L318.9 380.7 L320.2 377.1 L321.5 373.5 L322.8 369.8 L324.1 366.1 L325.4 362.3 L326.7 358.4 L328 354.5 L329.3 350.5 L330.6 346.5 L332 342.5 L333.3 338.4 L334.6 334.3 L335.9 330.2 L337.2 326.1 L338.5 321.9 L339.8 317.7 L341.1 313.5 L342.4 309.2 L343.7 304.9 L345 300.5 L346.4 296.1 L347.7 291.6 L349 287 L350.3 282.4 L351.6 277.8 L352.9 273.3 L354.2 268.7 L355.5 264.3 L356.8 259.9 L358.1 255.5 L359.4 251.2 L360.7 246.8 L362.1 242.5 L363.4 238.1 L364.7 233.8 L366 229.3 L367.3 224.9 L368.6 220.5 L369.9 216.1 L371.2 211.7 L372.5 207.5 L373.8 203.4 L375.1 199.3 L376.5 195.3 L377.8 191.4 L379.1 187.5 L380.4 183.7 L381.7 179.9 L383 176.1 L384.3 172.1 L385.6 168.2 L386.9 164.4 L388.2 160.9 L389.5 157.7 L390.9 154.8 L392.2 152 L393.5 149.5 L394.8 147.4 L396.1 146 L397.4 145 L398.7 144.1 L400 143.7 L401.3 143.7 L402.6 144.6 L403.9 146 L405.3 147.7 L406.6 150.1 L407.9 153.6 L409.2 157.6 L410.5 161.8 L411.8 166.6 L413.1 172 L414.4 178 L415.7 184.8 L417 192.6 L418.3 201 L419.6 209.7 L421 219 L422.3 228.8 L423.6 239.1 L424.9 249.6 L426.2 259.8 L427.5 270.1 L428.8 281.1 L430.1 293 L431.4 304.2 L432.7 314.1 L434 322.2 L435.4 329.6 L436.7 337.3 L438 345.1 L439.3 353 L440.6 361.6 L441.9 370.8 L443.8 374.5 L445.7 380 L447.6 385.9 L449.5 391 L451.4 395.9 L453.3 400.5 L455.2 404.9 L457.2 409 L459.1 412.8 L461 416.5 L462.9 420.1 L464.8 423.6 L466.7 427 L468.6 430.3 L470.5 433.3 L472.4 436.1 L474.3 438.8 L476.2 441.4 L478.1 443.9 L480 446.3 L481.9 448.6 L483.8 450.9 L485.7 453 L487.7 455 L489.6 457 L491.5 458.9 L493.4 460.7 L495.3 462.5 L497.2 464.2 L499.1 465.9 L501 467.6 L502.9 469.2 L504.8 470.8 L506.7 472.2 L508.6 473.5 L510.5 474.8 L512.4 476 L514.3 477.1 L516.2 478.2 L518.2 479.3 L520.1 480.3 L522 481.2 L523.9 482 L525.8 482.8 L527.7 483.6 L529.6 484.3 L531.5 485.1 L533.4 485.7 L535.3 486.4 L537.2 487 L539.1 487.6 L541 488.2 L542.9 488.7 L544.8 489.2 L546.7 489.7 L548.7 490.2 L550.6 490.7 L552.5 491.1 L554.4 491.5 L556.3 492 L558.2 492.4 L560.1 492.8 L562 493.2 L563.9 493.6 L565.8 494 L567.7 494.3 L569.6 494.6 L571.5 494.9 L573.4 495.2 L575.3 495.5 L577.2 495.7 L579.2 496 L581.1 496.2 L583 496.4 L584.9 496.6 L586.8 496.8 L588.7 497 L590.6 497.2 L592.5 497.4 L594.4 497.6 L596.3 497.7 L598.2 497.9 L600.1 498 L602 498.1 L603.9 498.3 L605.8 498.4 L607.7 498.5 L609.7 498.6 L611.6 498.7 L613.5 498.8 L615.4 498.9 L617.3 499 L619.2 499.1 L621.1 499.2 L623 499.3 L624.9 499.4 L626.8 499.5 L628.7 499.6 L630.6 499.7 L632.5 499.7 L634.4 499.8 L636.3 499.9 L638.2 499.9 L640.2 500 L642.1 500.1 L644 500.1 L645.9 500.2 L647.8 500.2 L649.7 500.3 L651.6 500.3 L653.5 500.4 L655.4 500.4 L657.3 500.5 L659.2 500.5 L661.1 500.6 L663 500.6 L664.9 500.6 L666.8 500.7 L668.7 500.7 L670.7 500.8 L672.6 500.8 L674.5 500.8 L676.4 500.9 L678.3 500.9 L680.2 500.9 L682.1 501 L684 501 L685.9 501 L687.8 501 L689.7 501.1 L691.6 501.1 L693.5 501.1 L695.4 501.1 L697.3 501.2 L699.2 501.2 L701.2 501.2 L703.1 501.2 L705 501.3 L706.9 501.3 L708.8 501.3 L710.7 501.3 L712.6 501.3 L714.5 501.4 L716.4 501.4 L718.3 501.4 L720.2 501.4 L722.1 501.4 L724 501.5 L725.9 501.5 L727.8 501.5 L729.7 501.5 L731.7 501.5 L733.6 501.5 L735.5 501.5 L737.4 501.6 L739.3 501.6 L741.2 501.6 L743.1 501.6 L745 501.6"/>
</g>
<rect x="138.1" y="185.7" width="127" height="4.8" fill="#000"/>
<rect x="138.1" y="192.9" width="127" height="14.6" fill="#000"/>
<rect x="138.1" y="345.8" width="127" height="10.2" fill="#000"/>
<path fill="#4472C4" d="M201.2 205.4L212.7 228.2L201.2 219.7L189.7 228.2Z"/>
<path fill="#4472C4" d="M201.2 348.3L212.7 325.5L201.2 334L189.7 325.5Z"/>
<rect x="198.7" y="213.4" width="5" height="126.9" fill="#4472C4"/>
<text class="ser" x="213.8" y="286" font-size="34">ε</text>
<path d="M127 37.7H185" stroke="#808080" stroke-width="2.2" fill="none"/>
<text x="196.5" y="46.2" font-size="25">2D F-model with splitting parameter <tspan class="ser" font-size="28">ε</tspan> = 0.55</text>
<circle cx="534" cy="121.7" r="5.5" fill="#00A2FF"/>
<path fill="#008000" stroke="#008000" stroke-width="1.2" stroke-linejoin="round" d="M534.2 150.4L540.8 165.4L527.7 165.4Z"/>
<path d="M505.1 195.7H527.9M540.8 195.7H563.1" stroke="#6400E0" stroke-width="2" fill="none"/>
<path fill="#9A00CC" d="M534.2 190L535.9 193.9L540.1 194.3L537 197.1L537.8 201.2L534.2 199.1L530.6 201.2L531.4 197.1L528.3 194.3L532.5 193.9Z"/>
<text x="571.7" y="129.7" font-size="25">44DTO(100)</text>
<text x="571.7" y="166.7" font-size="25">8DTO(100)</text>
<text x="571.7" y="203.7" font-size="25">4DTO(100)</text>
<text x="-1" y="30.7" font-size="40.5" font-weight="bold">a</text>
<path d="M879.7 18.9H1526.4M884.2 17.9V510.4M1526.4 17.9V506.5M876.2 502H1527.4M879.7 458.1H884.2M876.2 414.2H884.2M879.7 370.2H884.2M876.2 326.3H884.2M879.7 282.4H884.2M876.2 238.5H884.2M879.7 194.6H884.2M876.2 150.7H884.2M879.7 106.7H884.2M876.2 62.8H884.2M998 502V506.5M1064.6 502V506.5M1111.8 502V506.5M1148.4 502V506.5M1178.3 502V506.5M1203.6 502V506.5M1225.6 502V506.5M1244.9 502V506.5M1262.2 502V510.4M1376 502V506.5M1442.6 502V506.5M1489.8 502V506.5M1526.4 502V506.5" fill="none" stroke="#000" stroke-width="2.1"/>
<text x="867" y="511.7" font-size="30.6" text-anchor="end">0</text>
<text x="867" y="423.9" font-size="30.6" text-anchor="end">1</text>
<text x="867" y="336" font-size="30.6" text-anchor="end">2</text>
<text x="867" y="248.2" font-size="30.6" text-anchor="end">3</text>
<text x="867" y="160.4" font-size="30.6" text-anchor="end">4</text>
<text x="867" y="72.5" font-size="30.6" text-anchor="end">5</text>
<text x="883" y="541.8" font-size="30.6" text-anchor="middle">0.1</text>
<text x="1263" y="541.8" font-size="30.6" text-anchor="middle">1</text>
<text transform="translate(1174.8 578.7) scale(0.950 1)" font-size="31"><tspan font-style="italic">T</tspan><tspan dx="-2"> (K)</tspan></text>
<g transform="translate(819.6 387) rotate(-90)">
<text x="-1" y="0" font-size="31">Δ</text>
<text transform="translate(18 0) scale(1.060 1)" font-size="31" font-style="italic">C</text>
<text transform="translate(38 0) scale(1.200 1)" font-size="31" font-style="italic">/</text>
<text x="49.3" y="0" font-size="31" font-style="italic">T</text>
<text transform="translate(70.6 0) scale(0.930 1)" font-size="31">(</text>
<text x="83.2" y="0" font-size="31">J</text>
<text x="104.8" y="0" font-size="31">K</text>
<text x="124.5" y="-7.8" font-size="20">−2</text>
<text transform="translate(152.8 0) scale(0.955 1)" font-size="31">mol</text>
<text x="198.5" y="-8.5" font-size="20">−1</text>
<text transform="translate(224 8.4) scale(0.950 1)" font-size="21">Dy</text>
<text transform="translate(250.3 0) scale(0.930 1)" font-size="31">)</text>
</g>
<g clip-path="url(#cb)">
<path fill="none" stroke="#000000" stroke-width="2.1" stroke-linejoin="round" d="M868.6 501.9 L869.9 501.9 L871.2 501.9 L872.5 501.9 L873.8 501.9 L875.1 501.9 L876.4 501.9 L877.7 501.9 L879.1 501.9 L880.4 501.9 L881.7 501.9 L883 501.9 L884.3 501.9 L885.6 501.9 L886.9 501.9 L888.2 501.9 L889.6 501.9 L890.9 501.9 L892.2 501.9 L893.5 501.8 L894.8 501.8 L896.1 501.8 L897.4 501.8 L898.8 501.8 L900.1 501.8 L901.4 501.8 L902.7 501.8 L904 501.8 L905.3 501.8 L906.6 501.8 L907.9 501.8 L909.3 501.8 L910.6 501.8 L911.9 501.8 L913.2 501.8 L914.5 501.7 L915.8 501.7 L917.1 501.7 L918.4 501.7 L919.8 501.7 L921.1 501.7 L922.4 501.7 L923.7 501.7 L925 501.7 L926.3 501.7 L927.6 501.7 L929 501.6 L930.3 501.6 L931.6 501.6 L932.9 501.6 L934.2 501.5 L935.5 501.5 L936.8 501.5 L938.1 501.4 L939.5 501.4 L940.8 501.4 L942.1 501.3 L943.4 501.3 L944.7 501.2 L946 501.2 L947.3 501.1 L948.6 501.1 L950 501 L951.3 501 L952.6 500.9 L953.9 500.9 L955.2 500.8 L956.5 500.8 L957.8 500.7 L959.2 500.6 L960.5 500.6 L961.8 500.5 L963.1 500.4 L964.4 500.3 L965.7 500.2 L967 500.1 L968.3 500 L969.7 499.9 L971 499.8 L972.3 499.7 L973.6 499.5 L974.9 499.4 L976.2 499.3 L977.5 499.1 L978.8 499 L980.2 498.8 L981.5 498.6 L982.8 498.5 L984.1 498.2 L985.4 498 L986.7 497.7 L988 497.4 L989.4 497.1 L990.7 496.7 L992 496.4 L993.3 496 L994.6 495.6 L995.9 495.2 L997.2 494.7 L998.5 494.3 L999.9 493.9 L1001.2 493.4 L1002.5 492.9 L1003.8 492.4 L1005.1 491.9 L1006.4 491.4 L1007.7 490.8 L1009 490.2 L1010.4 489.6 L1011.7 489 L1013 488.3 L1014.3 487.6 L1015.6 486.9 L1016.9 486.1 L1018.2 485.4 L1019.6 484.6 L1020.9 483.7 L1022.2 482.8 L1023.5 481.9 L1024.8 480.9 L1026.1 479.9 L1027.4 478.8 L1028.7 477.7 L1030.1 476.5 L1031.4 475.3 L1032.7 474.1 L1034 472.8 L1035.3 471.5 L1036.6 470.1 L1037.9 468.6 L1039.2 467.1 L1040.6 465.4 L1041.9 463.7 L1043.2 461.9 L1044.5 460 L1045.8 458.1 L1047.1 456.1 L1048.4 454 L1049.8 451.9 L1051.1 449.8 L1052.4 447.6 L1053.7 445.4 L1055 443.2 L1056.3 440.8 L1057.6 438.3 L1058.9 435.7 L1060.3 433 L1061.6 430.2 L1062.9 427.4 L1064.2 424.5 L1065.5 421.5 L1066.8 418.4 L1068.1 415.1 L1069.5 411.8 L1070.8 408.4 L1072.1 405 L1073.4 401.5 L1074.7 398.1 L1076 394.5 L1077.3 391 L1078.6 387.3 L1080 383.7 L1081.3 380 L1082.6 376.2 L1083.9 372.4 L1085.2 368.6 L1086.5 364.7 L1087.8 360.7 L1089.1 356.6 L1090.5 352.5 L1091.8 348.3 L1093.1 344 L1094.4 339.7 L1095.7 335.4 L1097 331 L1098.3 326.5 L1099.7 322 L1101 317.6 L1102.3 313 L1103.6 308.5 L1104.9 303.9 L1106.2 299.3 L1107.5 294.6 L1108.8 289.9 L1110.2 285.2 L1111.5 280.4 L1112.8 275.5 L1114.1 270.5 L1115.4 265.5 L1116.7 260.5 L1118 255.4 L1119.3 250.4 L1120.7 245.4 L1122 240.5 L1123.3 235.7 L1124.6 230.9 L1125.9 226.1 L1127.2 221.3 L1128.5 216.5 L1129.9 211.8 L1131.2 206.9 L1132.5 202.1 L1133.8 197.2 L1135.1 192.3 L1136.4 187.5 L1137.7 182.7 L1139 178 L1140.4 173.5 L1141.7 169 L1143 164.7 L1144.3 160.3 L1145.6 156.1 L1146.9 151.8 L1148.2 147.7 L1149.5 143.5 L1150.9 139.1 L1152.2 134.8 L1153.5 130.7 L1154.8 126.7 L1156.1 123.3 L1157.4 120.1 L1158.7 117.1 L1160.1 114.3 L1161.4 112 L1162.7 110.4 L1164 109.3 L1165.3 108.4 L1166.6 107.8 L1167.9 107.9 L1169.2 108.9 L1170.6 110.4 L1171.9 112.2 L1173.2 114.9 L1174.5 118.7 L1175.8 123.2 L1177.1 127.8 L1178.4 133.1 L1179.7 139 L1181.1 145.6 L1182.4 153.1 L1183.7 161.7 L1185 170.9 L1186.3 180.5 L1187.6 190.7 L1188.9 201.4 L1190.3 212.8 L1191.6 224.3 L1192.9 235.6 L1194.2 246.9 L1195.5 259 L1196.8 272.1 L1198.1 284.5 L1199.4 295.3 L1200.8 304.2 L1202.1 312.4 L1203.4 320.8 L1204.7 329.4 L1206 338.1 L1207.3 347.5 L1208.6 357.7 L1210.5 361.8 L1212.5 367.8 L1214.4 374.2 L1216.3 379.9 L1218.2 385.3 L1220.1 390.4 L1222 395.2 L1223.9 399.7 L1225.8 403.9 L1227.8 408 L1229.7 411.9 L1231.6 415.8 L1233.5 419.5 L1235.4 423.1 L1237.3 426.4 L1239.2 429.6 L1241.1 432.5 L1243.1 435.3 L1245 438.1 L1246.9 440.7 L1248.8 443.3 L1250.7 445.8 L1252.6 448.1 L1254.5 450.3 L1256.4 452.5 L1258.4 454.6 L1260.3 456.6 L1262.2 458.5 L1264.1 460.4 L1266 462.3 L1267.9 464.2 L1269.8 465.9 L1271.7 467.6 L1273.7 469.2 L1275.6 470.7 L1277.5 472.1 L1279.4 473.4 L1281.3 474.7 L1283.2 475.9 L1285.1 477 L1287 478.1 L1289 479.1 L1290.9 480 L1292.8 480.9 L1294.7 481.8 L1296.6 482.6 L1298.5 483.4 L1300.4 484.1 L1302.3 484.8 L1304.3 485.5 L1306.2 486.2 L1308.1 486.8 L1310 487.4 L1311.9 487.9 L1313.8 488.5 L1315.7 489 L1317.6 489.5 L1319.6 490 L1321.5 490.5 L1323.4 491 L1325.3 491.4 L1327.2 491.9 L1329.1 492.3 L1331 492.7 L1332.9 493.2 L1334.8 493.6 L1336.8 493.9 L1338.7 494.2 L1340.6 494.5 L1342.5 494.8 L1344.4 495.1 L1346.3 495.3 L1348.2 495.6 L1350.1 495.9 L1352.1 496.1 L1354 496.3 L1355.9 496.5 L1357.8 496.8 L1359.7 496.9 L1361.6 497.1 L1363.5 497.3 L1365.4 497.5 L1367.4 497.6 L1369.3 497.7 L1371.2 497.9 L1373.1 498 L1375 498.1 L1376.9 498.3 L1378.8 498.4 L1380.7 498.5 L1382.7 498.6 L1384.6 498.7 L1386.5 498.8 L1388.4 498.9 L1390.3 499 L1392.2 499.1 L1394.1 499.2 L1396 499.3 L1398 499.4 L1399.9 499.5 L1401.8 499.6 L1403.7 499.7 L1405.6 499.7 L1407.5 499.8 L1409.4 499.9 L1411.3 499.9 L1413.3 500 L1415.2 500.1 L1417.1 500.1 L1419 500.2 L1420.9 500.2 L1422.8 500.3 L1424.7 500.3 L1426.6 500.4 L1428.6 500.4 L1430.5 500.5 L1432.4 500.5 L1434.3 500.6 L1436.2 500.6 L1438.1 500.6 L1440 500.7 L1441.9 500.7 L1443.9 500.7 L1445.8 500.8 L1447.7 500.8 L1449.6 500.9 L1451.5 500.9 L1453.4 500.9 L1455.3 500.9 L1457.2 501 L1459.2 501 L1461.1 501 L1463 501.1 L1464.9 501.1 L1466.8 501.1 L1468.7 501.1 L1470.6 501.2 L1472.5 501.2 L1474.5 501.2 L1476.4 501.2 L1478.3 501.3 L1480.2 501.3 L1482.1 501.3 L1484 501.3 L1485.9 501.3 L1487.8 501.4 L1489.8 501.4 L1491.7 501.4 L1493.6 501.4 L1495.5 501.4 L1497.4 501.5 L1499.3 501.5 L1501.2 501.5 L1503.1 501.5 L1505 501.5 L1507 501.5 L1508.9 501.5 L1510.8 501.5 L1512.7 501.6 L1526.4 501.6"/>
<path fill="#008000" stroke="#008000" stroke-width="1.2" stroke-linejoin="round" d="M1097.7 377.8L1104.2 390.9L1091.2 390.9ZM1098.6 381.4L1105.2 394.5L1092.1 394.5ZM1104.3 355.6L1110.8 368.7L1097.8 368.7ZM1106.6 362.1L1113.1 375.2L1100 375.2ZM1107.5 365.8L1114 378.9L1101 378.9ZM1103 348.4L1109.5 361.6L1096.5 361.6ZM1108.8 340.1L1115.3 353.2L1102.2 353.2ZM1109.7 343.7L1116.2 356.8L1103.2 356.8ZM1110.5 333.4L1117 346.6L1104 346.6ZM1111.4 337.1L1118 350.2L1104.9 350.2ZM1113.2 328.9L1119.8 342.1L1106.7 342.1ZM1114.5 322.4L1121 335.6L1108 335.6ZM1115.4 326.1L1122 339.2L1108.9 339.2ZM1116.3 317.8L1122.8 330.9L1109.8 330.9ZM1118.5 311.4L1125 324.6L1112 324.6ZM1119.4 315.1L1126 328.2L1112.9 328.2ZM1119.9 306.8L1126.5 319.9L1113.4 319.9ZM1120.8 310.4L1127.4 323.5L1114.3 323.5ZM1122 299.4L1128.5 312.6L1115.5 312.6ZM1124.3 293.4L1130.8 306.6L1117.8 306.6ZM1125.2 297.1L1131.8 310.2L1118.7 310.2ZM1125.1 291.2L1131.6 304.4L1118.5 304.4ZM1128.7 273.4L1135.2 286.6L1122.2 286.6ZM1129.6 277.1L1136.2 290.2L1123.1 290.2ZM1128.8 272.6L1135.3 285.7L1122.2 285.7ZM1129.7 276.2L1136.2 289.3L1123.2 289.3ZM1131 266.4L1137.5 279.6L1124.5 279.6ZM1132.6 261.2L1139.1 274.4L1126 274.4ZM1133.5 264.9L1140 278L1127 278ZM1134.5 251.8L1141 264.9L1128 264.9ZM1138.2 234.9L1144.8 248.1L1131.7 248.1ZM1139.1 238.5L1145.7 251.7L1132.6 251.7ZM1140.1 227.4L1146.6 240.6L1133.5 240.6ZM1141 231L1147.5 244.2L1134.5 244.2ZM1144.6 210.5L1151.1 223.7L1138 223.7ZM1146.9 201.1L1153.5 214.2L1140.4 214.2ZM1147.8 204.7L1154.4 217.8L1141.3 217.8ZM1148 195.4L1154.5 208.6L1141.5 208.6ZM1149.5 189.8L1156 203L1143 203ZM1150.4 193.4L1157 206.6L1143.9 206.6ZM1151.4 180.4L1158 193.6L1144.9 193.6ZM1152.3 184L1158.9 197.2L1145.8 197.2ZM1153 175.4L1159.5 188.6L1146.5 188.6ZM1155.1 171.1L1161.6 184.2L1148.5 184.2ZM1156 174.7L1162.5 187.8L1149.5 187.8ZM1157 166.4L1163.5 179.6L1150.5 179.6ZM1158.9 161.8L1165.5 174.9L1152.4 174.9ZM1159.8 165.3L1166.4 178.5L1153.3 178.5ZM1160.5 156.4L1167 169.6L1154 169.6ZM1161.4 160L1168 173.2L1154.9 173.2ZM1162.6 152.3L1169.1 165.5L1156 165.5ZM1164.5 129.8L1171 142.9L1158 142.9ZM1165.4 133.3L1172 146.5L1158.9 146.5ZM1163.5 141.4L1170 154.6L1157 154.6ZM1166.5 135.4L1173 148.6L1160 148.6ZM1167.4 139L1174 152.2L1160.9 152.2ZM1170.1 120.5L1176.6 133.6L1163.5 133.6ZM1171 124L1177.5 137.2L1164.5 137.2ZM1167.5 125.5L1174 138.6L1161 138.6ZM1172 109.2L1178.5 122.2L1165.5 122.2ZM1172.9 112.8L1179.5 125.8L1166.4 125.8ZM1174.6 99.8L1181.1 112.8L1168 112.8ZM1179.5 114.8L1186 127.8L1173 127.8ZM1180.4 118.3L1187 131.4L1173.9 131.4ZM1181.4 124.1L1188 137.2L1174.9 137.2ZM1182.3 127.7L1188.9 140.8L1175.8 140.8ZM1176 119.5L1182.5 132.6L1169.5 132.6ZM1177.5 105.5L1184 118.5L1171 118.5ZM1178.4 109L1185 122.1L1171.9 122.1ZM1194.6 144.8L1201.1 158L1188 158ZM1194.6 150.9L1201.1 164.1L1188 164.1ZM1205.8 191.8L1212.3 204.9L1199.2 204.9ZM1205.2 194.8L1211.8 207.9L1198.7 207.9ZM1205.8 199.2L1212.3 212.4L1199.2 212.4ZM1218.2 244.3L1224.8 257.4L1211.7 257.4ZM1218.2 248.4L1224.8 261.6L1211.7 261.6ZM1217.6 251.4L1224.2 264.6L1211.1 264.6ZM1228.6 302.2L1235.1 315.4L1222 315.4ZM1238.3 355.6L1244.8 368.7L1231.8 368.7ZM1237.5 365.3L1244 378.4L1231 378.4ZM1236.9 368.3L1243.5 381.4L1230.4 381.4ZM1246.3 391.1L1252.8 404.2L1239.8 404.2ZM1256.5 387.9L1263 401.1L1250 401.1ZM1256.1 413.2L1262.6 426.4L1249.5 426.4ZM1255.5 416.2L1262 429.4L1249 429.4ZM1256.1 422.1L1262.6 435.2L1249.5 435.2ZM1264.1 439.4L1270.6 452.6L1257.5 452.6ZM1266 447.4L1272.5 460.6L1259.5 460.6ZM1265.4 450.4L1272 463.6L1258.9 463.6ZM1270.5 461.4L1277 474.6L1264 474.6ZM1276.5 469.4L1283 482.6L1270 482.6ZM1281 473.6L1287.5 486.8L1274.5 486.8ZM1280.4 476.6L1287 489.8L1273.9 489.8ZM1287 455.6L1293.5 468.8L1280.5 468.8ZM1290 474.4L1296.5 487.6L1283.5 487.6ZM1298.8 473.4L1305.3 486.6L1292.2 486.6ZM1298.2 476.4L1304.8 489.6L1291.7 489.6ZM1300.2 466.4L1306.8 479.6L1293.7 479.6ZM1302 478.9L1308.5 492.1L1295.5 492.1ZM1306.2 475.3L1312.8 488.4L1299.7 488.4ZM1305.6 478.3L1312.2 491.4L1299.1 491.4ZM1313.5 468.6L1320 481.8L1307 481.8ZM1315.5 486.9L1322 500.1L1309 500.1ZM1324.8 485.9L1331.3 499.1L1318.2 499.1ZM1324.2 488.9L1330.8 502.1L1317.7 502.1ZM1340.6 463.4L1347.1 476.6L1334 476.6ZM1339 474.4L1345.5 487.6L1332.5 487.6ZM1331.9 480.6L1338.5 493.8L1325.4 493.8ZM1331.3 483.6L1337.9 496.8L1324.8 496.8ZM1340.6 485.9L1347.1 499.1L1334 499.1ZM1351.2 482.4L1357.8 495.6L1344.7 495.6ZM1360 482.4L1366.5 495.6L1353.5 495.6ZM1359.4 485.4L1366 498.6L1352.9 498.6ZM1354.7 489.4L1361.2 502.6L1348.2 502.6ZM1421.5 491.2L1428 504.4L1415 504.4ZM1446.1 495.9L1452.6 509.1L1439.5 509.1ZM1445.5 498.9L1452 512L1439 512ZM1483 463.1L1489.5 476.2L1476.5 476.2ZM1474.3 482.4L1480.8 495.6L1467.8 495.6ZM1491.8 473.6L1498.3 486.8L1485.2 486.8ZM1491.2 476.6L1497.8 489.8L1484.7 489.8ZM1502.4 477.1L1509 490.2L1495.9 490.2ZM1483 487.8L1489.5 500.9L1476.5 500.9ZM1502.4 491.2L1509 504.4L1495.9 504.4ZM1501.8 494.2L1508.4 507.4L1495.3 507.4Z"/>
<path fill="none" stroke="#B4B4B4" stroke-opacity="0.6" stroke-width="2.1" stroke-linejoin="round" d="M884.2 501.9 L898.5 501.9 L899.8 501.9 L901.1 501.9 L902.4 501.9 L903.7 501.9 L905 501.9 L906.4 501.9 L907.7 501.9 L909 501.9 L910.3 501.9 L911.6 501.9 L912.9 501.9 L914.2 501.9 L915.6 501.9 L916.9 501.9 L918.2 501.9 L919.5 501.9 L920.8 501.9 L922.1 501.9 L923.4 501.9 L924.7 501.9 L926.1 501.9 L927.4 501.9 L928.7 501.9 L930 501.9 L931.3 501.8 L932.6 501.8 L933.9 501.8 L935.2 501.8 L936.6 501.8 L937.9 501.8 L939.2 501.8 L940.5 501.8 L941.8 501.8 L943.1 501.8 L944.4 501.8 L945.8 501.8 L947.1 501.8 L948.4 501.8 L949.7 501.8 L951 501.8 L952.3 501.7 L953.6 501.7 L954.9 501.7 L956.3 501.7 L957.6 501.7 L958.9 501.7 L960.2 501.7 L961.5 501.7 L962.8 501.6 L964.1 501.6 L965.4 501.6 L966.8 501.6 L968.1 501.5 L969.4 501.5 L970.7 501.5 L972 501.4 L973.3 501.4 L974.6 501.4 L976 501.3 L977.3 501.3 L978.6 501.2 L979.9 501.2 L981.2 501.2 L982.5 501.1 L983.8 501.1 L985.1 501 L986.5 501 L987.8 500.9 L989.1 500.9 L990.4 500.8 L991.7 500.7 L993 500.7 L994.3 500.6 L995.6 500.5 L997 500.4 L998.3 500.3 L999.6 500.3 L1000.9 500.2 L1002.2 500.1 L1003.5 500 L1004.8 499.8 L1006.2 499.7 L1007.5 499.6 L1008.8 499.5 L1010.1 499.3 L1011.4 499.2 L1012.7 499 L1014 498.9 L1015.3 498.7 L1016.7 498.4 L1018 498.2 L1019.3 497.9 L1020.6 497.6 L1021.9 497.3 L1023.2 497 L1024.5 496.6 L1025.8 496.3 L1027.2 495.9 L1028.5 495.6 L1029.8 495.2 L1031.1 494.8 L1032.4 494.5 L1033.7 494 L1035 493.6 L1036.4 493.1 L1037.7 492.7 L1039 492.2 L1040.3 491.7 L1041.6 491.1 L1042.9 490.6 L1044.2 490 L1045.5 489.4 L1046.9 488.8 L1048.2 488.1 L1049.5 487.5 L1050.8 486.8 L1052.1 486 L1053.4 485.2 L1054.7 484.4 L1056 483.5 L1057.4 482.7 L1058.7 481.7 L1060 480.8 L1061.3 479.8 L1062.6 478.7 L1063.9 477.7 L1065.2 476.6 L1066.6 475.4 L1067.9 474.2 L1069.2 472.9 L1070.5 471.5 L1071.8 470.1 L1073.1 468.6 L1074.4 467 L1075.7 465.4 L1077.1 463.7 L1078.4 462 L1079.7 460.3 L1081 458.5 L1082.3 456.7 L1083.6 454.9 L1084.9 453 L1086.3 451 L1087.6 448.9 L1088.9 446.7 L1090.2 444.5 L1091.5 442.2 L1092.8 439.8 L1094.1 437.4 L1095.4 435 L1096.8 432.3 L1098.1 429.6 L1099.4 426.8 L1100.7 424 L1102 421.2 L1103.3 418.3 L1104.6 415.4 L1105.9 412.4 L1107.3 409.5 L1108.6 406.5 L1109.9 403.4 L1111.2 400.3 L1112.5 397.2 L1113.8 394 L1115.1 390.8 L1116.5 387.5 L1117.8 384.2 L1119.1 380.8 L1120.4 377.4 L1121.7 373.9 L1123 370.4 L1124.3 366.8 L1125.6 363.1 L1127 359.5 L1128.3 355.8 L1129.6 352 L1130.9 348.3 L1132.2 344.5 L1133.5 340.7 L1134.8 336.9 L1136.1 333.1 L1137.5 329.2 L1138.8 325.3 L1140.1 321.3 L1141.4 317.3 L1142.7 313.2 L1144 309.1 L1145.3 304.9 L1146.7 300.7 L1148 296.5 L1149.3 292.3 L1150.6 288.2 L1151.9 284.1 L1153.2 280.1 L1154.5 276.1 L1155.8 272.1 L1157.2 268.1 L1158.5 264.1 L1159.8 260.1 L1161.1 256.1 L1162.4 252.1 L1163.7 248 L1165 243.9 L1166.3 239.9 L1167.7 235.9 L1169 232 L1170.3 228.3 L1171.6 224.5 L1172.9 220.9 L1174.2 217.3 L1175.5 213.7 L1176.9 210.2 L1178.2 206.7 L1179.5 203.2 L1180.8 199.6 L1182.1 196 L1183.4 192.5 L1184.7 189.3 L1186 186.4 L1187.4 183.8 L1188.7 181.2 L1190 178.9 L1191.3 177 L1192.6 175.7 L1193.9 174.7 L1195.2 174 L1196.5 173.5 L1197.9 173.6 L1199.2 174.4 L1200.5 175.7 L1201.8 177.2 L1203.1 179.4 L1204.4 182.6 L1205.7 186.3 L1207.1 190.2 L1208.4 194.6 L1209.7 199.5 L1211 205 L1212.3 211.2 L1213.6 218.4 L1214.9 226.1 L1216.2 234 L1217.6 242.6 L1218.9 251.5 L1220.2 261 L1221.5 270.6 L1222.8 280 L1224.1 289.4 L1225.4 299.5 L1226.7 310.4 L1228.1 320.7 L1229.4 329.8 L1230.7 337.2 L1232 344 L1233.3 351 L1234.6 358.1 L1235.9 365.4 L1237.3 373.3 L1238.6 381.7 L1240.5 385.1 L1242.4 390.1 L1244.3 395.5 L1246.2 400.2 L1248.1 404.7 L1250 409 L1252 413 L1253.9 416.7 L1255.8 420.3 L1257.7 423.6 L1259.6 426.9 L1261.5 430.1 L1263.4 433.3 L1265.3 436.3 L1267.2 439 L1269.2 441.6 L1271.1 444.1 L1273 446.4 L1274.9 448.7 L1276.8 450.9 L1278.7 453.1 L1280.6 455.1 L1282.5 457.1 L1284.5 458.9 L1286.4 460.7 L1288.3 462.5 L1290.2 464.1 L1292.1 465.8 L1294 467.4 L1295.9 468.9 L1297.8 470.5 L1299.8 472 L1301.7 473.4 L1303.6 474.7 L1305.5 475.9 L1307.4 477.1 L1309.3 478.2 L1311.2 479.2 L1313.1 480.2 L1315.1 481.2 L1317 482.1 L1318.9 482.9 L1320.8 483.7 L1322.7 484.4 L1324.6 485.1 L1326.5 485.8 L1328.4 486.5 L1330.4 487.1 L1332.3 487.7 L1334.2 488.3 L1336.1 488.8 L1338 489.3 L1339.9 489.8 L1341.8 490.3 L1343.7 490.7 L1345.7 491.2 L1347.6 491.6 L1349.5 492 L1351.4 492.4 L1353.3 492.8 L1355.2 493.2 L1357.1 493.5 L1359 493.9 L1361 494.3 L1362.9 494.6 L1364.8 495 L1366.7 495.3 L1368.6 495.5 L1370.5 495.8 L1372.4 496 L1374.3 496.2 L1376.3 496.5 L1378.2 496.7 L1380.1 496.9 L1382 497.1 L1383.9 497.3 L1385.8 497.5 L1387.7 497.6 L1389.6 497.8 L1391.6 497.9 L1393.5 498.1 L1395.4 498.2 L1397.3 498.3 L1399.2 498.5 L1401.1 498.6 L1403 498.7 L1404.9 498.8 L1406.9 498.9 L1408.8 499 L1410.7 499.1 L1412.6 499.2 L1414.5 499.3 L1416.4 499.4 L1418.3 499.5 L1420.2 499.5 L1422.2 499.6 L1424.1 499.7 L1426 499.8 L1427.9 499.8 L1429.8 499.9 L1431.7 500 L1433.6 500.1 L1435.5 500.1 L1437.4 500.2 L1439.4 500.2 L1441.3 500.3 L1443.2 500.3 L1445.1 500.4 L1447 500.4 L1448.9 500.5 L1450.8 500.5 L1452.7 500.6 L1454.7 500.6 L1456.6 500.6 L1458.5 500.7 L1460.4 500.7 L1462.3 500.8 L1464.2 500.8 L1466.1 500.8 L1468 500.9 L1470 500.9 L1471.9 500.9 L1473.8 501 L1475.7 501 L1477.6 501 L1479.5 501 L1481.4 501.1 L1483.3 501.1 L1485.3 501.1 L1487.2 501.1 L1489.1 501.2 L1491 501.2 L1492.9 501.2 L1494.8 501.2 L1496.7 501.3 L1498.6 501.3 L1500.6 501.3 L1502.5 501.3 L1504.4 501.3 L1506.3 501.4 L1508.2 501.4 L1510.1 501.4 L1512 501.4 L1513.9 501.4 L1515.9 501.5 L1517.8 501.5 L1519.7 501.5 L1521.6 501.5 L1523.5 501.5 L1525.4 501.5 L1527.3 501.5 L1529.2 501.6 L1531.2 501.6 L1533.1 501.6 L1535 501.6 L1536.9 501.6 L1538.8 501.6 L1540.7 501.6 L1542.6 501.6"/>
<path fill="none" stroke="#878787" stroke-opacity="0.7" stroke-width="2.1" stroke-linejoin="round" d="M884.2 501.9 L891.5 501.9 L892.8 501.9 L894.1 501.9 L895.4 501.9 L896.7 501.9 L898.1 501.9 L899.4 501.9 L900.7 501.9 L902 501.9 L903.3 501.9 L904.6 501.9 L905.9 501.9 L907.3 501.9 L908.6 501.9 L909.9 501.9 L911.2 501.9 L912.5 501.9 L913.8 501.9 L915.1 501.9 L916.4 501.9 L917.8 501.9 L919.1 501.9 L920.4 501.9 L921.7 501.8 L923 501.8 L924.3 501.8 L925.6 501.8 L926.9 501.8 L928.3 501.8 L929.6 501.8 L930.9 501.8 L932.2 501.8 L933.5 501.8 L934.8 501.8 L936.1 501.8 L937.5 501.8 L938.8 501.8 L940.1 501.8 L941.4 501.8 L942.7 501.8 L944 501.7 L945.3 501.7 L946.6 501.7 L948 501.7 L949.3 501.7 L950.6 501.7 L951.9 501.7 L953.2 501.7 L954.5 501.6 L955.8 501.6 L957.1 501.6 L958.5 501.6 L959.8 501.6 L961.1 501.5 L962.4 501.5 L963.7 501.5 L965 501.4 L966.3 501.4 L967.7 501.3 L969 501.3 L970.3 501.3 L971.6 501.2 L972.9 501.2 L974.2 501.1 L975.5 501.1 L976.8 501 L978.2 501 L979.5 500.9 L980.8 500.9 L982.1 500.8 L983.4 500.7 L984.7 500.7 L986 500.6 L987.3 500.5 L988.7 500.5 L990 500.4 L991.3 500.3 L992.6 500.2 L993.9 500.1 L995.2 500 L996.5 499.9 L997.9 499.7 L999.2 499.6 L1000.5 499.5 L1001.8 499.4 L1003.1 499.2 L1004.4 499.1 L1005.7 498.9 L1007 498.7 L1008.4 498.5 L1009.7 498.3 L1011 498 L1012.3 497.7 L1013.6 497.4 L1014.9 497.1 L1016.2 496.8 L1017.6 496.4 L1018.9 496 L1020.2 495.7 L1021.5 495.3 L1022.8 494.9 L1024.1 494.5 L1025.4 494.1 L1026.7 493.7 L1028.1 493.2 L1029.4 492.8 L1030.7 492.3 L1032 491.7 L1033.3 491.2 L1034.6 490.7 L1035.9 490.1 L1037.2 489.5 L1038.6 488.8 L1039.9 488.2 L1041.2 487.5 L1042.5 486.8 L1043.8 486.1 L1045.1 485.3 L1046.4 484.5 L1047.8 483.6 L1049.1 482.7 L1050.4 481.8 L1051.7 480.8 L1053 479.8 L1054.3 478.8 L1055.6 477.7 L1056.9 476.6 L1058.3 475.5 L1059.6 474.3 L1060.9 473 L1062.2 471.6 L1063.5 470.2 L1064.8 468.7 L1066.1 467.1 L1067.4 465.5 L1068.8 463.8 L1070.1 462.1 L1071.4 460.3 L1072.7 458.5 L1074 456.6 L1075.3 454.7 L1076.6 452.8 L1078 450.8 L1079.3 448.8 L1080.6 446.6 L1081.9 444.3 L1083.2 442 L1084.5 439.6 L1085.8 437.1 L1087.1 434.6 L1088.5 432 L1089.8 429.3 L1091.1 426.5 L1092.4 423.6 L1093.7 420.6 L1095 417.6 L1096.3 414.6 L1097.6 411.6 L1099 408.6 L1100.3 405.4 L1101.6 402.3 L1102.9 399.1 L1104.2 395.9 L1105.5 392.6 L1106.8 389.3 L1108.2 386 L1109.5 382.6 L1110.8 379.1 L1112.1 375.6 L1113.4 372 L1114.7 368.3 L1116 364.6 L1117.3 360.9 L1118.7 357.1 L1120 353.3 L1121.3 349.4 L1122.6 345.5 L1123.9 341.6 L1125.2 337.7 L1126.5 333.7 L1127.8 329.7 L1129.2 325.7 L1130.5 321.7 L1131.8 317.6 L1133.1 313.4 L1134.4 309.3 L1135.7 305 L1137 300.7 L1138.4 296.4 L1139.7 292 L1141 287.6 L1142.3 283.2 L1143.6 278.9 L1144.9 274.6 L1146.2 270.4 L1147.5 266.2 L1148.9 262.1 L1150.2 257.9 L1151.5 253.8 L1152.8 249.6 L1154.1 245.4 L1155.4 241.2 L1156.7 236.9 L1158 232.7 L1159.4 228.5 L1160.7 224.4 L1162 220.3 L1163.3 216.4 L1164.6 212.5 L1165.9 208.7 L1167.2 204.9 L1168.6 201.2 L1169.9 197.5 L1171.2 193.9 L1172.5 190.2 L1173.8 186.5 L1175.1 182.7 L1176.4 179.1 L1177.7 175.7 L1179.1 172.7 L1180.4 169.9 L1181.7 167.3 L1183 164.8 L1184.3 162.9 L1185.6 161.5 L1186.9 160.5 L1188.2 159.7 L1189.6 159.2 L1190.9 159.3 L1192.2 160.1 L1193.5 161.5 L1194.8 163.1 L1196.1 165.4 L1197.4 168.7 L1198.8 172.6 L1200.1 176.6 L1201.4 181.2 L1202.7 186.3 L1204 192.1 L1205.3 198.6 L1206.6 206.1 L1207.9 214.1 L1209.3 222.4 L1210.6 231.3 L1211.9 240.6 L1213.2 250.5 L1214.5 260.6 L1215.8 270.4 L1217.1 280.2 L1218.4 290.7 L1219.8 302.1 L1221.1 312.8 L1222.4 322.3 L1223.7 330 L1225 337.1 L1226.3 344.4 L1227.6 351.9 L1229 359.5 L1230.3 367.7 L1231.6 376.5 L1233.5 380.1 L1235.4 385.3 L1237.3 390.9 L1239.2 395.8 L1241.1 400.5 L1243.1 405 L1245 409.1 L1246.9 413 L1248.8 416.7 L1250.7 420.2 L1252.6 423.7 L1254.5 427 L1256.4 430.3 L1258.4 433.4 L1260.3 436.3 L1262.2 439 L1264.1 441.6 L1266 444 L1267.9 446.4 L1269.8 448.7 L1271.7 451 L1273.6 453.1 L1275.6 455.1 L1277.5 457.1 L1279.4 458.9 L1281.3 460.7 L1283.2 462.5 L1285.1 464.2 L1287 465.9 L1288.9 467.5 L1290.9 469.1 L1292.8 470.7 L1294.7 472.1 L1296.6 473.5 L1298.5 474.8 L1300.4 476 L1302.3 477.1 L1304.2 478.2 L1306.2 479.3 L1308.1 480.3 L1310 481.2 L1311.9 482.1 L1313.8 482.9 L1315.7 483.7 L1317.6 484.4 L1319.5 485.1 L1321.5 485.8 L1323.4 486.4 L1325.3 487.1 L1327.2 487.7 L1329.1 488.2 L1331 488.8 L1332.9 489.3 L1334.8 489.8 L1336.8 490.3 L1338.7 490.7 L1340.6 491.2 L1342.5 491.6 L1344.4 492 L1346.3 492.4 L1348.2 492.8 L1350.1 493.2 L1352.1 493.6 L1354 494 L1355.9 494.3 L1357.8 494.7 L1359.7 495 L1361.6 495.2 L1363.5 495.5 L1365.4 495.7 L1367.4 496 L1369.3 496.2 L1371.2 496.4 L1373.1 496.7 L1375 496.9 L1376.9 497.1 L1378.8 497.3 L1380.7 497.4 L1382.7 497.6 L1384.6 497.8 L1386.5 497.9 L1388.4 498.1 L1390.3 498.2 L1392.2 498.3 L1394.1 498.4 L1396 498.5 L1398 498.6 L1399.9 498.8 L1401.8 498.9 L1403.7 499 L1405.6 499.1 L1407.5 499.2 L1409.4 499.3 L1411.3 499.3 L1413.3 499.4 L1415.2 499.5 L1417.1 499.6 L1419 499.7 L1420.9 499.8 L1422.8 499.8 L1424.7 499.9 L1426.6 500 L1428.6 500 L1430.5 500.1 L1432.4 500.2 L1434.3 500.2 L1436.2 500.3 L1438.1 500.3 L1440 500.4 L1441.9 500.4 L1443.8 500.5 L1445.8 500.5 L1447.7 500.5 L1449.6 500.6 L1451.5 500.6 L1453.4 500.7 L1455.3 500.7 L1457.2 500.7 L1459.1 500.8 L1461.1 500.8 L1463 500.8 L1464.9 500.9 L1466.8 500.9 L1468.7 500.9 L1470.6 501 L1472.5 501 L1474.4 501 L1476.4 501.1 L1478.3 501.1 L1480.2 501.1 L1482.1 501.1 L1484 501.2 L1485.9 501.2 L1487.8 501.2 L1489.7 501.2 L1491.7 501.2 L1493.6 501.3 L1495.5 501.3 L1497.4 501.3 L1499.3 501.3 L1501.2 501.4 L1503.1 501.4 L1505 501.4 L1507 501.4 L1508.9 501.4 L1510.8 501.4 L1512.7 501.5 L1514.6 501.5 L1516.5 501.5 L1518.4 501.5 L1520.3 501.5 L1522.3 501.5 L1524.2 501.6 L1526.1 501.6 L1528 501.6 L1529.9 501.6 L1531.8 501.6 L1533.7 501.6 L1535.6 501.6"/>
<path fill="none" stroke="#808080" stroke-width="2.1" stroke-linejoin="round" d="M884.2 501.9 L885.5 501.9 L886.8 501.9 L888.1 501.9 L889.5 501.9 L890.8 501.9 L892.1 501.9 L893.4 501.9 L894.7 501.9 L896 501.9 L897.3 501.9 L898.6 501.9 L900 501.9 L901.3 501.9 L902.6 501.9 L903.9 501.9 L905.2 501.9 L906.5 501.9 L907.8 501.9 L909.1 501.9 L910.5 501.9 L911.8 501.9 L913.1 501.8 L914.4 501.8 L915.7 501.8 L917 501.8 L918.3 501.8 L919.7 501.8 L921 501.8 L922.3 501.8 L923.6 501.8 L924.9 501.8 L926.2 501.8 L927.5 501.8 L928.8 501.8 L930.2 501.8 L931.5 501.8 L932.8 501.8 L934.1 501.7 L935.4 501.7 L936.7 501.7 L938 501.7 L939.3 501.7 L940.7 501.7 L942 501.7 L943.3 501.7 L944.6 501.7 L945.9 501.7 L947.2 501.6 L948.5 501.6 L949.9 501.6 L951.2 501.6 L952.5 501.5 L953.8 501.5 L955.1 501.5 L956.4 501.4 L957.7 501.4 L959 501.4 L960.4 501.3 L961.7 501.3 L963 501.2 L964.3 501.2 L965.6 501.1 L966.9 501.1 L968.2 501 L969.5 501 L970.9 500.9 L972.2 500.9 L973.5 500.8 L974.8 500.8 L976.1 500.7 L977.4 500.6 L978.7 500.5 L980.1 500.5 L981.4 500.4 L982.7 500.3 L984 500.2 L985.3 500.1 L986.6 500 L987.9 499.9 L989.2 499.8 L990.6 499.6 L991.9 499.5 L993.2 499.4 L994.5 499.2 L995.8 499.1 L997.1 498.9 L998.4 498.8 L999.7 498.6 L1001.1 498.4 L1002.4 498.1 L1003.7 497.8 L1005 497.5 L1006.3 497.2 L1007.6 496.9 L1008.9 496.5 L1010.3 496.2 L1011.6 495.8 L1012.9 495.4 L1014.2 495 L1015.5 494.6 L1016.8 494.2 L1018.1 493.8 L1019.4 493.3 L1020.8 492.8 L1022.1 492.3 L1023.4 491.8 L1024.7 491.3 L1026 490.7 L1027.3 490.1 L1028.6 489.5 L1029.9 488.9 L1031.3 488.2 L1032.6 487.6 L1033.9 486.9 L1035.2 486.1 L1036.5 485.4 L1037.8 484.6 L1039.1 483.7 L1040.5 482.8 L1041.8 481.9 L1043.1 480.9 L1044.4 479.9 L1045.7 478.8 L1047 477.7 L1048.3 476.6 L1049.6 475.4 L1051 474.2 L1052.3 473 L1053.6 471.7 L1054.9 470.2 L1056.2 468.7 L1057.5 467.2 L1058.8 465.5 L1060.1 463.8 L1061.5 462.1 L1062.8 460.3 L1064.1 458.4 L1065.4 456.5 L1066.7 454.6 L1068 452.6 L1069.3 450.6 L1070.7 448.5 L1072 446.3 L1073.3 444.1 L1074.6 441.7 L1075.9 439.3 L1077.2 436.8 L1078.5 434.2 L1079.8 431.6 L1081.2 428.9 L1082.5 426 L1083.8 423 L1085.1 420 L1086.4 416.9 L1087.7 413.8 L1089 410.7 L1090.3 407.5 L1091.7 404.3 L1093 401.1 L1094.3 397.8 L1095.6 394.4 L1096.9 391.1 L1098.2 387.7 L1099.5 384.2 L1100.9 380.7 L1102.2 377.1 L1103.5 373.5 L1104.8 369.8 L1106.1 366.1 L1107.4 362.3 L1108.7 358.4 L1110 354.5 L1111.4 350.5 L1112.7 346.5 L1114 342.5 L1115.3 338.4 L1116.6 334.3 L1117.9 330.2 L1119.2 326.1 L1120.5 321.9 L1121.9 317.7 L1123.2 313.5 L1124.5 309.2 L1125.8 304.9 L1127.1 300.5 L1128.4 296.1 L1129.7 291.6 L1131.1 287 L1132.4 282.4 L1133.7 277.8 L1135 273.3 L1136.3 268.7 L1137.6 264.3 L1138.9 259.9 L1140.2 255.5 L1141.6 251.2 L1142.9 246.8 L1144.2 242.5 L1145.5 238.1 L1146.8 233.8 L1148.1 229.3 L1149.4 224.9 L1150.7 220.5 L1152.1 216.1 L1153.4 211.7 L1154.7 207.5 L1156 203.4 L1157.3 199.3 L1158.6 195.3 L1159.9 191.4 L1161.3 187.5 L1162.6 183.7 L1163.9 179.9 L1165.2 176.1 L1166.5 172.1 L1167.8 168.2 L1169.1 164.4 L1170.4 160.9 L1171.8 157.7 L1173.1 154.8 L1174.4 152 L1175.7 149.5 L1177 147.4 L1178.3 146 L1179.6 145 L1180.9 144.1 L1182.3 143.7 L1183.6 143.7 L1184.9 144.6 L1186.2 146 L1187.5 147.7 L1188.8 150.1 L1190.1 153.6 L1191.5 157.6 L1192.8 161.8 L1194.1 166.6 L1195.4 172 L1196.7 178 L1198 184.8 L1199.3 192.6 L1200.6 201 L1202 209.7 L1203.3 219 L1204.6 228.8 L1205.9 239.1 L1207.2 249.6 L1208.5 259.8 L1209.8 270.1 L1211.1 281.1 L1212.5 293 L1213.8 304.2 L1215.1 314.1 L1216.4 322.2 L1217.7 329.6 L1219 337.3 L1220.3 345.1 L1221.7 353 L1223 361.6 L1224.3 370.8 L1226.2 374.5 L1228.1 380 L1230 385.9 L1231.9 391 L1233.8 395.9 L1235.8 400.5 L1237.7 404.9 L1239.6 409 L1241.5 412.8 L1243.4 416.5 L1245.3 420.1 L1247.2 423.6 L1249.1 427 L1251.1 430.3 L1253 433.3 L1254.9 436.1 L1256.8 438.8 L1258.7 441.4 L1260.6 443.9 L1262.5 446.3 L1264.4 448.6 L1266.4 450.9 L1268.3 453 L1270.2 455 L1272.1 457 L1274 458.9 L1275.9 460.7 L1277.8 462.5 L1279.7 464.2 L1281.7 465.9 L1283.6 467.6 L1285.5 469.2 L1287.4 470.8 L1289.3 472.2 L1291.2 473.5 L1293.1 474.8 L1295 476 L1296.9 477.1 L1298.9 478.2 L1300.8 479.3 L1302.7 480.3 L1304.6 481.2 L1306.5 482 L1308.4 482.8 L1310.3 483.6 L1312.2 484.3 L1314.2 485.1 L1316.1 485.7 L1318 486.4 L1319.9 487 L1321.8 487.6 L1323.7 488.2 L1325.6 488.7 L1327.5 489.2 L1329.5 489.7 L1331.4 490.2 L1333.3 490.7 L1335.2 491.1 L1337.1 491.5 L1339 492 L1340.9 492.4 L1342.8 492.8 L1344.8 493.2 L1346.7 493.6 L1348.6 494 L1350.5 494.3 L1352.4 494.6 L1354.3 494.9 L1356.2 495.2 L1358.1 495.5 L1360.1 495.7 L1362 496 L1363.9 496.2 L1365.8 496.4 L1367.7 496.6 L1369.6 496.8 L1371.5 497 L1373.4 497.2 L1375.4 497.4 L1377.3 497.6 L1379.2 497.7 L1381.1 497.9 L1383 498 L1384.9 498.1 L1386.8 498.3 L1388.7 498.4 L1390.7 498.5 L1392.6 498.6 L1394.5 498.7 L1396.4 498.8 L1398.3 498.9 L1400.2 499 L1402.1 499.1 L1404 499.2 L1406 499.3 L1407.9 499.4 L1409.8 499.5 L1411.7 499.6 L1413.6 499.7 L1415.5 499.7 L1417.4 499.8 L1419.3 499.9 L1421.3 499.9 L1423.2 500 L1425.1 500.1 L1427 500.1 L1428.9 500.2 L1430.8 500.2 L1432.7 500.3 L1434.6 500.3 L1436.6 500.4 L1438.5 500.4 L1440.4 500.5 L1442.3 500.5 L1444.2 500.6 L1446.1 500.6 L1448 500.6 L1449.9 500.7 L1451.9 500.7 L1453.8 500.8 L1455.7 500.8 L1457.6 500.8 L1459.5 500.9 L1461.4 500.9 L1463.3 500.9 L1465.2 501 L1467.1 501 L1469.1 501 L1471 501 L1472.9 501.1 L1474.8 501.1 L1476.7 501.1 L1478.6 501.1 L1480.5 501.2 L1482.4 501.2 L1484.4 501.2 L1486.3 501.2 L1488.2 501.3 L1490.1 501.3 L1492 501.3 L1493.9 501.3 L1495.8 501.3 L1497.7 501.4 L1499.7 501.4 L1501.6 501.4 L1503.5 501.4 L1505.4 501.4 L1507.3 501.5 L1509.2 501.5 L1511.1 501.5 L1513 501.5 L1515 501.5 L1516.9 501.5 L1518.8 501.5 L1520.7 501.6 L1522.6 501.6 L1524.5 501.6 L1526.4 501.6 L1528.3 501.6"/>
<path fill="none" stroke="#3C3C3C" stroke-width="2.1" stroke-linejoin="round" d="M876.6 501.9 L877.9 501.9 L879.2 501.9 L880.5 501.9 L881.8 501.9 L883.1 501.9 L884.4 501.9 L885.8 501.9 L887.1 501.9 L888.4 501.9 L889.7 501.9 L891 501.9 L892.3 501.9 L893.6 501.9 L894.9 501.9 L896.3 501.9 L897.6 501.9 L898.9 501.9 L900.2 501.9 L901.5 501.9 L902.8 501.8 L904.1 501.8 L905.5 501.8 L906.8 501.8 L908.1 501.8 L909.4 501.8 L910.7 501.8 L912 501.8 L913.3 501.8 L914.6 501.8 L916 501.8 L917.3 501.8 L918.6 501.8 L919.9 501.8 L921.2 501.8 L922.5 501.8 L923.8 501.8 L925.1 501.7 L926.5 501.7 L927.8 501.7 L929.1 501.7 L930.4 501.7 L931.7 501.7 L933 501.7 L934.3 501.7 L935.7 501.7 L937 501.7 L938.3 501.6 L939.6 501.6 L940.9 501.6 L942.2 501.6 L943.5 501.5 L944.8 501.5 L946.2 501.5 L947.5 501.4 L948.8 501.4 L950.1 501.4 L951.4 501.3 L952.7 501.3 L954 501.2 L955.3 501.2 L956.7 501.1 L958 501.1 L959.3 501 L960.6 501 L961.9 500.9 L963.2 500.9 L964.5 500.8 L965.9 500.8 L967.2 500.7 L968.5 500.6 L969.8 500.6 L971.1 500.5 L972.4 500.4 L973.7 500.3 L975 500.2 L976.4 500.1 L977.7 500 L979 499.9 L980.3 499.8 L981.6 499.7 L982.9 499.5 L984.2 499.4 L985.5 499.3 L986.9 499.1 L988.2 499 L989.5 498.8 L990.8 498.6 L992.1 498.4 L993.4 498.2 L994.7 497.9 L996.1 497.6 L997.4 497.3 L998.7 497 L1000 496.6 L1001.3 496.3 L1002.6 495.9 L1003.9 495.5 L1005.2 495.1 L1006.6 494.7 L1007.9 494.3 L1009.2 493.8 L1010.5 493.4 L1011.8 492.9 L1013.1 492.4 L1014.4 491.9 L1015.7 491.3 L1017.1 490.8 L1018.4 490.2 L1019.7 489.6 L1021 488.9 L1022.3 488.3 L1023.6 487.6 L1024.9 486.9 L1026.3 486.2 L1027.6 485.4 L1028.9 484.6 L1030.2 483.7 L1031.5 482.8 L1032.8 481.9 L1034.1 480.9 L1035.4 479.9 L1036.8 478.8 L1038.1 477.7 L1039.4 476.6 L1040.7 475.4 L1042 474.2 L1043.3 472.9 L1044.6 471.6 L1045.9 470.2 L1047.3 468.7 L1048.6 467.2 L1049.9 465.5 L1051.2 463.8 L1052.5 462 L1053.8 460.2 L1055.1 458.3 L1056.5 456.3 L1057.8 454.3 L1059.1 452.3 L1060.4 450.2 L1061.7 448.1 L1063 446 L1064.3 443.7 L1065.6 441.3 L1067 438.8 L1068.3 436.3 L1069.6 433.7 L1070.9 431 L1072.2 428.2 L1073.5 425.4 L1074.8 422.4 L1076.1 419.3 L1077.5 416.1 L1078.8 412.9 L1080.1 409.6 L1081.4 406.3 L1082.7 403 L1084 399.7 L1085.3 396.3 L1086.7 392.8 L1088 389.3 L1089.3 385.8 L1090.6 382.2 L1091.9 378.6 L1093.2 374.9 L1094.5 371.2 L1095.8 367.4 L1097.2 363.5 L1098.5 359.6 L1099.8 355.6 L1101.1 351.6 L1102.4 347.5 L1103.7 343.3 L1105 339.1 L1106.3 334.9 L1107.7 330.6 L1109 326.3 L1110.3 322 L1111.6 317.7 L1112.9 313.3 L1114.2 308.9 L1115.5 304.5 L1116.9 300 L1118.2 295.5 L1119.5 290.9 L1120.8 286.3 L1122.1 281.6 L1123.4 276.8 L1124.7 272 L1126 267.1 L1127.4 262.4 L1128.7 257.6 L1130 253 L1131.3 248.4 L1132.6 243.8 L1133.9 239.2 L1135.2 234.7 L1136.5 230.1 L1137.9 225.6 L1139.2 221 L1140.5 216.4 L1141.8 211.7 L1143.1 207.1 L1144.4 202.4 L1145.7 197.9 L1147.1 193.5 L1148.4 189.1 L1149.7 184.9 L1151 180.7 L1152.3 176.6 L1153.6 172.5 L1154.9 168.5 L1156.2 164.5 L1157.6 160.5 L1158.9 156.4 L1160.2 152.3 L1161.5 148.3 L1162.8 144.6 L1164.1 141.3 L1165.4 138.3 L1166.7 135.4 L1168.1 132.7 L1169.4 130.6 L1170.7 129.1 L1172 128 L1173.3 127.1 L1174.6 126.6 L1175.9 126.7 L1177.3 127.6 L1178.6 129 L1179.9 130.8 L1181.2 133.3 L1182.5 137 L1183.8 141.2 L1185.1 145.6 L1186.4 150.6 L1187.8 156.3 L1189.1 162.6 L1190.4 169.7 L1191.7 177.9 L1193 186.7 L1194.3 195.8 L1195.6 205.5 L1196.9 215.8 L1198.3 226.5 L1199.6 237.6 L1200.9 248.3 L1202.2 259 L1203.5 270.5 L1204.8 283.1 L1206.1 294.8 L1207.5 305.2 L1208.8 313.7 L1210.1 321.4 L1211.4 329.4 L1212.7 337.6 L1214 345.9 L1215.3 354.9 L1216.6 364.6 L1218.6 368.4 L1220.5 374.2 L1222.4 380.3 L1224.3 385.7 L1226.2 390.8 L1228.1 395.7 L1230 400.3 L1231.9 404.6 L1233.9 408.6 L1235.8 412.5 L1237.7 416.2 L1239.6 419.9 L1241.5 423.5 L1243.4 426.9 L1245.3 430 L1247.2 433 L1249.2 435.8 L1251.1 438.5 L1253 441.1 L1254.9 443.6 L1256.8 446.1 L1258.7 448.5 L1260.6 450.7 L1262.5 452.8 L1264.5 454.8 L1266.4 456.8 L1268.3 458.7 L1270.2 460.6 L1272.1 462.4 L1274 464.2 L1275.9 466 L1277.8 467.7 L1279.8 469.3 L1281.7 470.8 L1283.6 472.2 L1285.5 473.5 L1287.4 474.8 L1289.3 476 L1291.2 477.1 L1293.1 478.2 L1295 479.2 L1297 480.2 L1298.9 481.1 L1300.8 481.9 L1302.7 482.7 L1304.6 483.5 L1306.5 484.2 L1308.4 485 L1310.3 485.6 L1312.3 486.3 L1314.2 486.9 L1316.1 487.5 L1318 488.1 L1319.9 488.6 L1321.8 489.1 L1323.7 489.6 L1325.6 490.1 L1327.6 490.6 L1329.5 491 L1331.4 491.5 L1333.3 491.9 L1335.2 492.3 L1337.1 492.8 L1339 493.2 L1340.9 493.6 L1342.9 494 L1344.8 494.3 L1346.7 494.6 L1348.6 494.9 L1350.5 495.1 L1352.4 495.4 L1354.3 495.7 L1356.2 495.9 L1358.2 496.2 L1360.1 496.4 L1362 496.6 L1363.9 496.8 L1365.8 497 L1367.7 497.2 L1369.6 497.4 L1371.5 497.5 L1373.5 497.7 L1375.4 497.8 L1377.3 498 L1379.2 498.1 L1381.1 498.2 L1383 498.3 L1384.9 498.4 L1386.8 498.6 L1388.8 498.7 L1390.7 498.8 L1392.6 498.9 L1394.5 499 L1396.4 499.1 L1398.3 499.2 L1400.2 499.3 L1402.1 499.4 L1404.1 499.5 L1406 499.5 L1407.9 499.6 L1409.8 499.7 L1411.7 499.8 L1413.6 499.8 L1415.5 499.9 L1417.4 500 L1419.4 500 L1421.3 500.1 L1423.2 500.2 L1425.1 500.2 L1427 500.3 L1428.9 500.3 L1430.8 500.4 L1432.7 500.4 L1434.7 500.5 L1436.6 500.5 L1438.5 500.5 L1440.4 500.6 L1442.3 500.6 L1444.2 500.7 L1446.1 500.7 L1448 500.7 L1450 500.8 L1451.9 500.8 L1453.8 500.8 L1455.7 500.9 L1457.6 500.9 L1459.5 500.9 L1461.4 501 L1463.3 501 L1465.2 501 L1467.2 501.1 L1469.1 501.1 L1471 501.1 L1472.9 501.1 L1474.8 501.2 L1476.7 501.2 L1478.6 501.2 L1480.5 501.2 L1482.5 501.2 L1484.4 501.3 L1486.3 501.3 L1488.2 501.3 L1490.1 501.3 L1492 501.4 L1493.9 501.4 L1495.8 501.4 L1497.8 501.4 L1499.7 501.4 L1501.6 501.4 L1503.5 501.5 L1505.4 501.5 L1507.3 501.5 L1509.2 501.5 L1511.1 501.5 L1513.1 501.5 L1515 501.5 L1516.9 501.6 L1518.8 501.6 L1520.7 501.6 L1526.4 501.6"/>
</g>
<text x="940" y="51.1" font-size="25">2D F-model: splitting paramenter <tspan class="ser" font-size="28">ε</tspan> dependence</text>
<path fill="#008000" stroke="#008000" stroke-width="1.2" stroke-linejoin="round" d="M1336.3 123L1343.2 134.3L1329.4 134.3Z"/>
<text x="1378.5" y="135.9" font-size="25">8DTO(100)</text>
<path d="M1307 161.7H1365.3" stroke="#000000" stroke-width="2.2" fill="none"/>
<text x="1378.5" y="168.1" font-size="25"><tspan class="ser" font-size="28">ε</tspan> = 0.500</text>
<path d="M1307 192.9H1365.3" stroke="#3C3C3C" stroke-width="2.2" fill="none"/>
<text x="1378.5" y="199.7" font-size="25"><tspan class="ser" font-size="28">ε</tspan> = 0.525</text>
<path d="M1307 224.4H1365.3" stroke="#808080" stroke-width="2.2" fill="none"/>
<text x="1378.5" y="231.2" font-size="25"><tspan class="ser" font-size="28">ε</tspan> = 0.550</text>
<path d="M1307 256H1365.3" stroke="#ABABAB" stroke-width="2.2" fill="none"/>
<text x="1378.5" y="263.1" font-size="25"><tspan class="ser" font-size="28">ε</tspan> = 0.575</text>
<path d="M1307 287.5H1365.3" stroke="#D2D2D2" stroke-width="2.2" fill="none"/>
<text x="1378.5" y="294.7" font-size="25"><tspan class="ser" font-size="28">ε</tspan> = 0.600</text>
<text transform="translate(785.2 30.7) scale(1.040 1)" font-size="40.5" font-weight="bold">b</text>
</svg></body></html>
